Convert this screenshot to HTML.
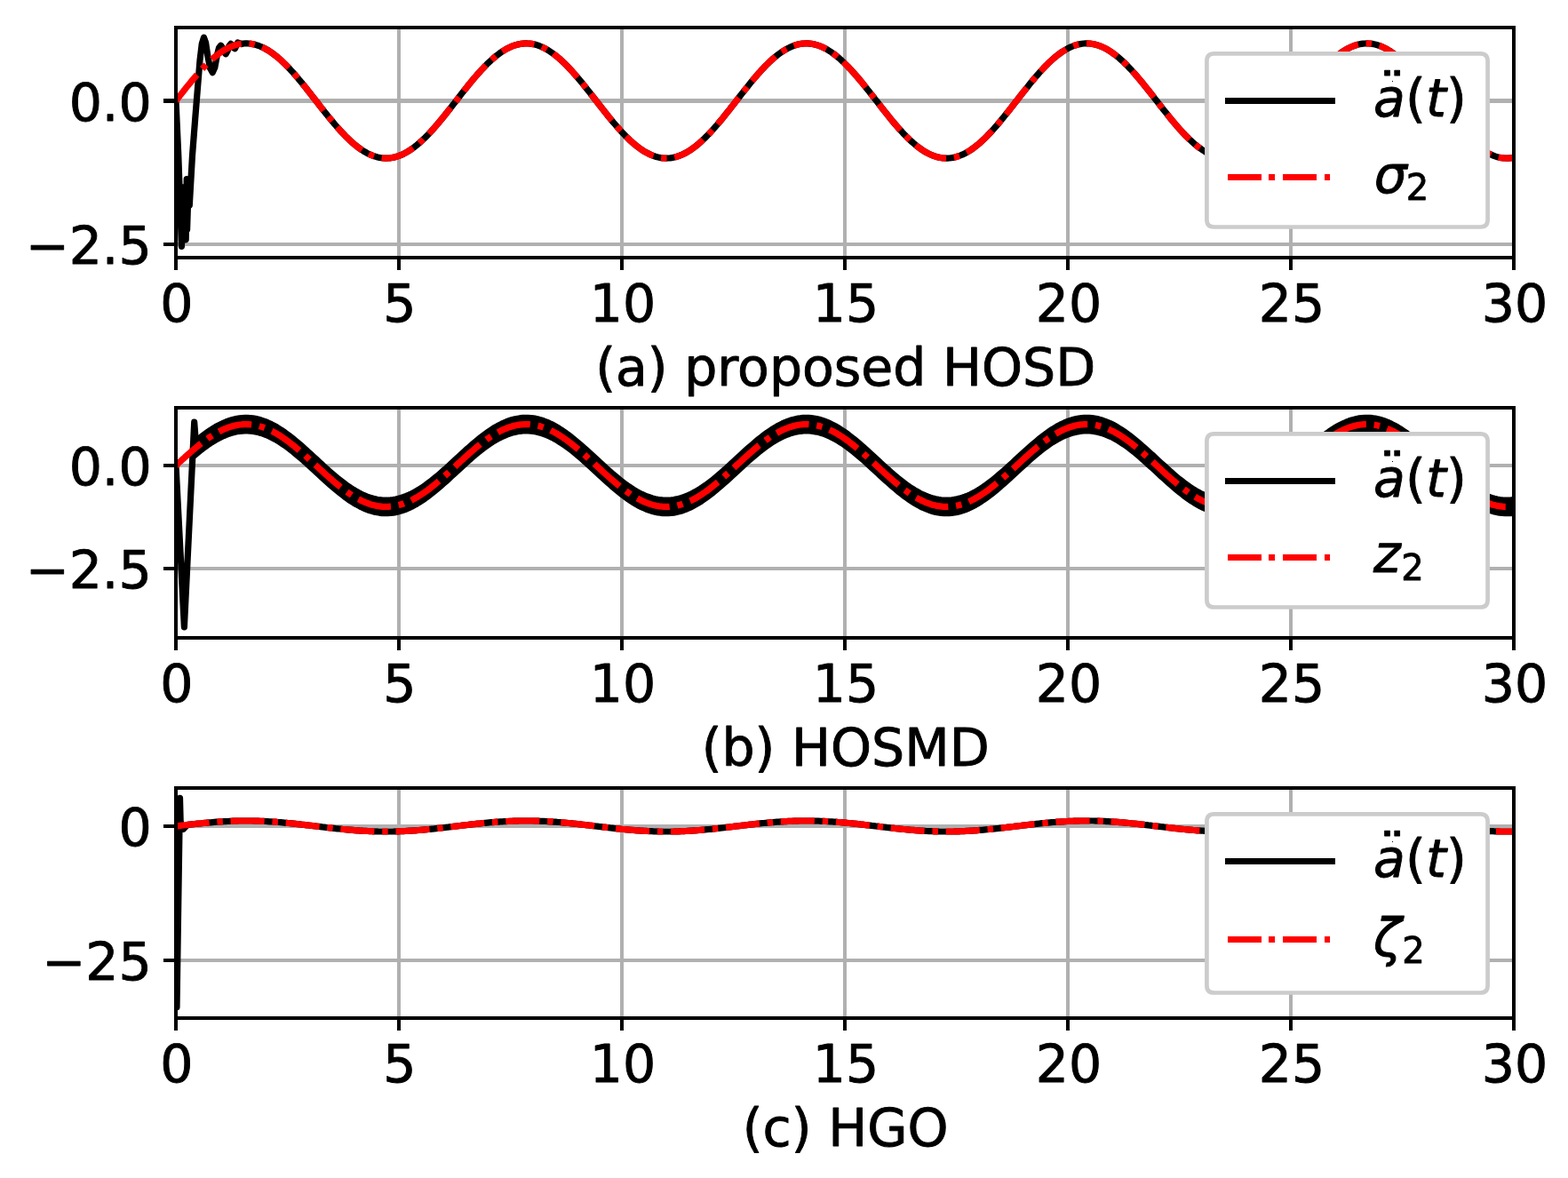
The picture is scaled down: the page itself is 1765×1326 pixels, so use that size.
<!DOCTYPE html>
<html lang="en"><head><meta charset="utf-8"><title>Second derivative estimation: HOSD, HOSMD, HGO</title>
<style>html,body{margin:0;padding:0;background:#fff}svg{display:block}text{font-family:'DejaVu Sans','Liberation Sans',sans-serif;font-size:58.5px;fill:#000;stroke:#000;stroke-width:0.9px;stroke-linejoin:round}.it{font-style:italic}.sub{font-size:40.2px}</style></head><body>
<svg width="1765" height="1326" viewBox="0 0 1765 1326">
<rect width="1765" height="1326" fill="#fff"/>
<defs><clipPath id="c0"><rect x="198" y="31" width="1506" height="259"/></clipPath></defs>
<g>
<g fill="#b0b0b0" shape-rendering="crispEdges">
<rect x="447" y="31" width="4" height="259"/>
<rect x="698" y="31" width="4" height="259"/>
<rect x="949" y="31" width="4" height="259"/>
<rect x="1200" y="31" width="4" height="259"/>
<rect x="1451" y="31" width="4" height="259"/>
<rect x="198" y="111" width="1506" height="5"/>
<rect x="198" y="273" width="1506" height="4"/>
</g>
<g clip-path="url(#c0)" fill="none" stroke-linejoin="round">
<path d="M198 113.5 L200.8 175 L204.4 277.4 L207 210.5 L209.2 269.8 L210.2 201.5 L210.6 258.5 L212.3 205 L213.3 231 L216.5 175 L219.6 135 L222.4 100 L225 68 L227.3 49 L229.5 42.2 L231.6 48 L234 64 L236.6 77 L239.3 81.6 L241.8 76 L244.4 62 L246.6 53.5 L248.6 51.2 L250.6 54 L252.6 59 L254.2 60.8 L256 57.5 L258 51.5 L259.8 49.4 L261.6 51.2 L263.2 54 L264.4 54.8 L265.8 52 L267.6 48 L269.6 48.6 L272 49.6 L274 49 L276 48.9 L278.1 48.9 L280.1 49 L282.2 49.3 L284.2 49.6 L286.3 50 L288.3 50.6 L290.3 51.2 L292.4 52 L294.4 52.8 L296.5 53.8 L298.5 54.8 L300.6 56 L302.6 57.2 L304.6 58.5 L306.7 60 L308.7 61.5 L310.8 63.1 L312.8 64.8 L314.9 66.5 L316.9 68.4 L318.9 70.3 L321 72.3 L323 74.4 L325.1 76.5 L327.1 78.7 L329.2 80.9 L331.2 83.2 L333.2 85.5 L335.3 87.9 L337.3 90.4 L339.4 92.8 L341.4 95.4 L343.5 97.9 L345.5 100.5 L347.5 103 L349.6 105.6 L351.6 108.3 L353.7 110.9 L355.7 113.5 L357.8 116.1 L359.8 118.8 L361.8 121.4 L363.9 124 L365.9 126.6 L368 129.1 L370 131.7 L372.1 134.2 L374.1 136.6 L376.1 139.1 L378.2 141.5 L380.2 143.8 L382.3 146.1 L384.3 148.4 L386.4 150.5 L388.4 152.7 L390.4 154.7 L392.5 156.7 L394.5 158.6 L396.6 160.5 L398.6 162.2 L400.7 163.9 L402.7 165.5 L404.7 167 L406.8 168.5 L408.8 169.8 L410.9 171 L412.9 172.2 L415 173.2 L417 174.2 L419 175 L421.1 175.8 L423.1 176.4 L425.2 177 L427.2 177.4 L429.3 177.7 L431.3 178 L433.3 178.1 L435.4 178.1 L437.4 178 L439.5 177.8 L441.5 177.5 L443.6 177.1 L445.6 176.5 L447.6 175.9 L449.7 175.2 L451.7 174.4 L453.8 173.4 L455.8 172.4 L457.9 171.3 L459.9 170 L461.9 168.7 L464 167.3 L466 165.8 L468.1 164.2 L470.1 162.6 L472.2 160.8 L474.2 159 L476.2 157.1 L478.3 155.1 L480.3 153.1 L482.4 151 L484.4 148.8 L486.5 146.5 L488.5 144.3 L490.5 141.9 L492.6 139.5 L494.6 137.1 L496.7 134.7 L498.7 132.1 L500.8 129.6 L502.8 127.1 L504.8 124.5 L506.9 121.9 L508.9 119.3 L511 116.6 L513 114 L515.1 111.4 L517.1 108.8 L519.1 106.1 L521.2 103.5 L523.2 101 L525.3 98.4 L527.3 95.8 L529.4 93.3 L531.4 90.8 L533.4 88.4 L535.5 86 L537.5 83.7 L539.6 81.3 L541.6 79.1 L543.7 76.9 L545.7 74.8 L547.7 72.7 L549.8 70.7 L551.8 68.8 L553.9 66.9 L555.9 65.1 L558 63.4 L560 61.8 L562 60.3 L564.1 58.8 L566.1 57.5 L568.2 56.2 L570.2 55 L572.3 54 L574.3 53 L576.3 52.1 L578.4 51.4 L580.4 50.7 L582.5 50.1 L584.5 49.7 L586.6 49.3 L588.6 49.1 L590.6 48.9 L592.7 48.9 L594.7 49 L596.8 49.2 L598.8 49.4 L600.9 49.8 L602.9 50.3 L604.9 50.9 L607 51.7 L609 52.5 L611.1 53.4 L613.1 54.4 L615.2 55.5 L617.2 56.7 L619.2 58 L621.3 59.4 L623.3 60.9 L625.4 62.4 L627.4 64.1 L629.5 65.8 L631.5 67.6 L633.5 69.5 L635.6 71.5 L637.6 73.5 L639.7 75.6 L641.7 77.8 L643.8 80 L645.8 82.3 L647.8 84.6 L649.9 87 L651.9 89.4 L654 91.9 L656 94.3 L658.1 96.9 L660.1 99.4 L662.1 102 L664.2 104.6 L666.2 107.2 L668.3 109.8 L670.3 112.5 L672.4 115.1 L674.4 117.7 L676.4 120.3 L678.5 122.9 L680.5 125.5 L682.6 128.1 L684.6 130.7 L686.7 133.2 L688.7 135.7 L690.7 138.1 L692.8 140.5 L694.8 142.9 L696.9 145.2 L698.9 147.5 L701 149.7 L703 151.8 L705 153.9 L707.1 155.9 L709.1 157.9 L711.2 159.7 L713.2 161.5 L715.3 163.3 L717.3 164.9 L719.3 166.4 L721.4 167.9 L723.4 169.3 L725.5 170.6 L727.5 171.7 L729.6 172.8 L731.6 173.8 L733.6 174.7 L735.7 175.5 L737.7 176.2 L739.8 176.8 L741.8 177.2 L743.9 177.6 L745.9 177.9 L747.9 178 L750 178.1 L752 178 L754.1 177.9 L756.1 177.6 L758.2 177.2 L760.2 176.8 L762.2 176.2 L764.3 175.5 L766.3 174.7 L768.4 173.8 L770.4 172.8 L772.5 171.7 L774.5 170.5 L776.5 169.3 L778.6 167.9 L780.6 166.4 L782.7 164.9 L784.7 163.2 L786.8 161.5 L788.8 159.7 L790.8 157.9 L792.9 155.9 L794.9 153.9 L797 151.8 L799 149.7 L801.1 147.4 L803.1 145.2 L805.1 142.9 L807.2 140.5 L809.2 138.1 L811.3 135.6 L813.3 133.2 L815.4 130.6 L817.4 128.1 L819.4 125.5 L821.5 122.9 L823.5 120.3 L825.6 117.7 L827.6 115.1 L829.7 112.4 L831.7 109.8 L833.7 107.2 L835.8 104.6 L837.8 102 L839.9 99.4 L841.9 96.9 L844 94.3 L846 91.8 L848 89.4 L850.1 87 L852.1 84.6 L854.2 82.3 L856.2 80 L858.3 77.8 L860.3 75.6 L862.3 73.5 L864.4 71.5 L866.4 69.5 L868.5 67.6 L870.5 65.8 L872.6 64.1 L874.6 62.4 L876.6 60.9 L878.7 59.4 L880.7 58 L882.8 56.7 L884.8 55.5 L886.9 54.4 L888.9 53.4 L890.9 52.5 L893 51.6 L895 50.9 L897.1 50.3 L899.1 49.8 L901.2 49.4 L903.2 49.2 L905.2 49 L907.3 48.9 L909.3 48.9 L911.4 49.1 L913.4 49.3 L915.5 49.7 L917.5 50.1 L919.5 50.7 L921.6 51.4 L923.6 52.1 L925.7 53 L927.7 54 L929.8 55 L931.8 56.2 L933.8 57.5 L935.9 58.8 L937.9 60.3 L940 61.8 L942 63.4 L944.1 65.1 L946.1 66.9 L948.1 68.8 L950.2 70.7 L952.2 72.7 L954.3 74.8 L956.3 76.9 L958.4 79.1 L960.4 81.4 L962.4 83.7 L964.5 86 L966.5 88.4 L968.6 90.9 L970.6 93.3 L972.7 95.9 L974.7 98.4 L976.7 101 L978.8 103.6 L980.8 106.2 L982.9 108.8 L984.9 111.4 L987 114 L989 116.7 L991 119.3 L993.1 121.9 L995.1 124.5 L997.2 127.1 L999.2 129.6 L1001.3 132.2 L1003.3 134.7 L1005.3 137.1 L1007.4 139.6 L1009.4 141.9 L1011.5 144.3 L1013.5 146.6 L1015.6 148.8 L1017.6 151 L1019.6 153.1 L1021.7 155.1 L1023.7 157.1 L1025.8 159 L1027.8 160.8 L1029.9 162.6 L1031.9 164.2 L1033.9 165.8 L1036 167.3 L1038 168.7 L1040.1 170.1 L1042.1 171.3 L1044.2 172.4 L1046.2 173.4 L1048.2 174.4 L1050.3 175.2 L1052.3 175.9 L1054.4 176.5 L1056.4 177.1 L1058.5 177.5 L1060.5 177.8 L1062.5 178 L1064.6 178.1 L1066.6 178.1 L1068.7 178 L1070.7 177.7 L1072.8 177.4 L1074.8 177 L1076.8 176.4 L1078.9 175.8 L1080.9 175 L1083 174.2 L1085 173.2 L1087.1 172.2 L1089.1 171 L1091.1 169.8 L1093.2 168.5 L1095.2 167 L1097.3 165.5 L1099.3 163.9 L1101.4 162.2 L1103.4 160.5 L1105.4 158.6 L1107.5 156.7 L1109.5 154.7 L1111.6 152.6 L1113.6 150.5 L1115.7 148.3 L1117.7 146.1 L1119.7 143.8 L1121.8 141.5 L1123.8 139.1 L1125.9 136.6 L1127.9 134.1 L1130 131.6 L1132 129.1 L1134 126.5 L1136.1 124 L1138.1 121.4 L1140.2 118.7 L1142.2 116.1 L1144.3 113.5 L1146.3 110.9 L1148.3 108.2 L1150.4 105.6 L1152.4 103 L1154.5 100.4 L1156.5 97.9 L1158.6 95.3 L1160.6 92.8 L1162.6 90.4 L1164.7 87.9 L1166.7 85.5 L1168.8 83.2 L1170.8 80.9 L1172.9 78.6 L1174.9 76.5 L1176.9 74.3 L1179 72.3 L1181 70.3 L1183.1 68.4 L1185.1 66.5 L1187.2 64.8 L1189.2 63.1 L1191.2 61.5 L1193.3 60 L1195.3 58.5 L1197.4 57.2 L1199.4 56 L1201.5 54.8 L1203.5 53.8 L1205.5 52.8 L1207.6 52 L1209.6 51.2 L1211.7 50.6 L1213.7 50 L1215.8 49.6 L1217.8 49.3 L1219.8 49 L1221.9 48.9 L1223.9 48.9 L1226 49 L1228 49.2 L1230.1 49.5 L1232.1 49.9 L1234.1 50.5 L1236.2 51.1 L1238.2 51.8 L1240.3 52.6 L1242.3 53.6 L1244.4 54.6 L1246.4 55.7 L1248.4 57 L1250.5 58.3 L1252.5 59.7 L1254.6 61.2 L1256.6 62.8 L1258.7 64.4 L1260.7 66.2 L1262.7 68 L1264.8 69.9 L1266.8 71.9 L1268.9 73.9 L1270.9 76.1 L1273 78.2 L1275 80.5 L1277 82.7 L1279.1 85.1 L1281.1 87.5 L1283.2 89.9 L1285.2 92.4 L1287.3 94.9 L1289.3 97.4 L1291.3 99.9 L1293.4 102.5 L1295.4 105.1 L1297.5 107.7 L1299.5 110.4 L1301.6 113 L1303.6 115.6 L1305.6 118.2 L1307.7 120.9 L1309.7 123.5 L1311.8 126.1 L1313.8 128.6 L1315.9 131.2 L1317.9 133.7 L1319.9 136.2 L1322 138.6 L1324 141 L1326.1 143.4 L1328.1 145.7 L1330.2 147.9 L1332.2 150.1 L1334.2 152.2 L1336.3 154.3 L1338.3 156.3 L1340.4 158.2 L1342.4 160.1 L1344.5 161.9 L1346.5 163.6 L1348.5 165.2 L1350.6 166.7 L1352.6 168.2 L1354.7 169.5 L1356.7 170.8 L1358.8 172 L1360.8 173 L1362.8 174 L1364.9 174.9 L1366.9 175.6 L1369 176.3 L1371 176.9 L1373.1 177.3 L1375.1 177.7 L1377.1 177.9 L1379.2 178.1 L1381.2 178.1 L1383.3 178 L1385.3 177.8 L1387.4 177.6 L1389.4 177.2 L1391.4 176.7 L1393.5 176.1 L1395.5 175.3 L1397.6 174.5 L1399.6 173.6 L1401.7 172.6 L1403.7 171.5 L1405.7 170.3 L1407.8 169 L1409.8 167.6 L1411.9 166.1 L1413.9 164.6 L1416 162.9 L1418 161.2 L1420 159.4 L1422.1 157.5 L1424.1 155.5 L1426.2 153.5 L1428.2 151.4 L1430.3 149.2 L1432.3 147 L1434.3 144.7 L1436.4 142.4 L1438.4 140 L1440.5 137.6 L1442.5 135.1 L1444.6 132.6 L1446.6 130.1 L1448.6 127.6 L1450.7 125 L1452.7 122.4 L1454.8 119.8 L1456.8 117.2 L1458.9 114.5 L1460.9 111.9 L1462.9 109.3 L1465 106.7 L1467 104.1 L1469.1 101.5 L1471.1 98.9 L1473.2 96.3 L1475.2 93.8 L1477.2 91.3 L1479.3 88.9 L1481.3 86.5 L1483.4 84.1 L1485.4 81.8 L1487.5 79.5 L1489.5 77.3 L1491.5 75.2 L1493.6 73.1 L1495.6 71.1 L1497.7 69.1 L1499.7 67.3 L1501.8 65.5 L1503.8 63.7 L1505.8 62.1 L1507.9 60.6 L1509.9 59.1 L1512 57.7 L1514 56.4 L1516.1 55.3 L1518.1 54.2 L1520.1 53.2 L1522.2 52.3 L1524.2 51.5 L1526.3 50.8 L1528.3 50.2 L1530.4 49.8 L1532.4 49.4 L1534.4 49.1 L1536.5 49 L1538.5 48.9 L1540.6 49 L1542.6 49.1 L1544.7 49.4 L1546.7 49.8 L1548.7 50.2 L1550.8 50.8 L1552.8 51.5 L1554.9 52.3 L1556.9 53.2 L1559 54.2 L1561 55.3 L1563 56.5 L1565.1 57.7 L1567.1 59.1 L1569.2 60.6 L1571.2 62.1 L1573.3 63.8 L1575.3 65.5 L1577.3 67.3 L1579.4 69.2 L1581.4 71.1 L1583.5 73.1 L1585.5 75.2 L1587.6 77.3 L1589.6 79.6 L1591.6 81.8 L1593.7 84.1 L1595.7 86.5 L1597.8 88.9 L1599.8 91.4 L1601.9 93.9 L1603.9 96.4 L1605.9 98.9 L1608 101.5 L1610 104.1 L1612.1 106.7 L1614.1 109.3 L1616.2 111.9 L1618.2 114.6 L1620.2 117.2 L1622.3 119.8 L1624.3 122.4 L1626.4 125 L1628.4 127.6 L1630.5 130.1 L1632.5 132.7 L1634.5 135.2 L1636.6 137.6 L1638.6 140 L1640.7 142.4 L1642.7 144.7 L1644.8 147 L1646.8 149.2 L1648.8 151.4 L1650.9 153.5 L1652.9 155.5 L1655 157.5 L1657 159.4 L1659.1 161.2 L1661.1 162.9 L1663.1 164.6 L1665.2 166.1 L1667.2 167.6 L1669.3 169 L1671.3 170.3 L1673.4 171.5 L1675.4 172.6 L1677.4 173.6 L1679.5 174.5 L1681.5 175.4 L1683.6 176.1 L1685.6 176.7 L1687.7 177.2 L1689.7 177.6 L1691.7 177.8 L1693.8 178 L1695.8 178.1 L1697.9 178.1 L1699.9 177.9 L1702 177.7 L1704 177.3" stroke="#000" stroke-width="7.2"/>
<path d="M198 113.5 L199.7 111.3 L201.3 109.2 L203 107.1 L204.7 104.9 L206.4 102.8 L208 100.7 L209.7 98.6 L211.4 96.5 L213.1 94.4 L214.7 92.4 L216.4 90.3 L218.1 88.3 L219.8 86.4 L221.4 84.4 L223.1 82.5 L224.8 80.7 L226.4 78.8 L228.1 77 L229.8 75.3 L231.5 73.6 L233.1 71.9 L234.8 70.3 L236.5 68.7 L238.2 67.2 L239.8 65.7 L241.5 64.3 L243.2 62.9 L244.9 61.6 L246.5 60.3 L248.2 59.1 L249.9 58 L251.5 56.9 L253.2 55.9 L254.9 55 L256.6 54.1 L258.2 53.3 L259.9 52.5 L261.6 51.9 L263.3 51.3 L264.9 50.7 L266.6 50.2 L268.3 49.8 L270 49.5 L271.6 49.2 L273.3 49.1 L275 48.9 L276.6 48.9 L278.3 48.9 L280 49 L281.7 49.2 L283.3 49.4 L285 49.8 L286.7 50.1 L288.4 50.6 L290 51.1 L291.7 51.7 L293.4 52.4 L295.1 53.1 L296.7 53.9 L298.4 54.8 L300.1 55.7 L301.7 56.7 L303.4 57.7 L305.1 58.9 L306.8 60 L308.4 61.3 L310.1 62.6 L311.8 63.9 L313.5 65.3 L315.1 66.8 L316.8 68.3 L318.5 69.9 L320.2 71.5 L321.8 73.1 L323.5 74.8 L325.2 76.6 L326.8 78.4 L328.5 80.2 L330.2 82.1 L331.9 84 L333.5 85.9 L335.2 87.9 L336.9 89.8 L338.6 91.9 L340.2 93.9 L341.9 96 L343.6 98 L345.3 100.1 L346.9 102.3 L348.6 104.4 L350.3 106.5 L351.9 108.7 L353.6 110.8 L355.3 113 L357 115.1 L358.6 117.3 L360.3 119.4 L362 121.6 L363.7 123.7 L365.3 125.8 L367 127.9 L368.7 130 L370.4 132.1 L372 134.1 L373.7 136.2 L375.4 138.2 L377 140.1 L378.7 142.1 L380.4 144 L382.1 145.9 L383.7 147.7 L385.4 149.5 L387.1 151.3 L388.8 153 L390.4 154.7 L392.1 156.3 L393.8 157.9 L395.5 159.5 L397.1 161 L398.8 162.4 L400.5 163.8 L402.1 165.1 L403.8 166.4 L405.5 167.6 L407.2 168.7 L408.8 169.8 L410.5 170.8 L412.2 171.8 L413.9 172.7 L415.5 173.5 L417.2 174.3 L418.9 175 L420.6 175.6 L422.2 176.2 L423.9 176.6 L425.6 177.1 L427.2 177.4 L428.9 177.7 L430.6 177.9 L432.3 178 L433.9 178.1 L435.6 178.1 L437.3 178 L439 177.9 L440.6 177.6 L442.3 177.3 L444 177 L445.7 176.5 L447.3 176 L449 175.4 L450.7 174.8 L452.3 174.1 L454 173.3 L455.7 172.5 L457.4 171.5 L459 170.6 L460.7 169.5 L462.4 168.4 L464.1 167.3 L465.7 166 L467.4 164.8 L469.1 163.4 L470.8 162 L472.4 160.6 L474.1 159.1 L475.8 157.5 L477.4 155.9 L479.1 154.3 L480.8 152.6 L482.5 150.9 L484.1 149.1 L485.8 147.3 L487.5 145.4 L489.2 143.5 L490.8 141.6 L492.5 139.6 L494.2 137.7 L495.9 135.6 L497.5 133.6 L499.2 131.6 L500.9 129.5 L502.5 127.4 L504.2 125.3 L505.9 123.1 L507.6 121 L509.2 118.9 L510.9 116.7 L512.6 114.6 L514.3 112.4 L515.9 110.3 L517.6 108.1 L519.3 106 L521 103.8 L522.6 101.7 L524.3 99.6 L526 97.5 L527.6 95.4 L529.3 93.4 L531 91.3 L532.7 89.3 L534.3 87.3 L536 85.4 L537.7 83.5 L539.4 81.6 L541 79.7 L542.7 77.9 L544.4 76.1 L546.1 74.4 L547.7 72.7 L549.4 71.1 L551.1 69.5 L552.7 67.9 L554.4 66.4 L556.1 65 L557.8 63.6 L559.4 62.2 L561.1 60.9 L562.8 59.7 L564.5 58.6 L566.1 57.5 L567.8 56.4 L569.5 55.4 L571.2 54.5 L572.8 53.7 L574.5 52.9 L576.2 52.2 L577.8 51.5 L579.5 51 L581.2 50.5 L582.9 50 L584.5 49.7 L586.2 49.4 L587.9 49.1 L589.6 49 L591.2 48.9 L592.9 48.9 L594.6 49 L596.3 49.1 L597.9 49.3 L599.6 49.6 L601.3 49.9 L602.9 50.4 L604.6 50.8 L606.3 51.4 L608 52 L609.6 52.7 L611.3 53.5 L613 54.3 L614.7 55.2 L616.3 56.2 L618 57.2 L619.7 58.3 L621.4 59.4 L623 60.7 L624.7 61.9 L626.4 63.2 L628 64.6 L629.7 66.1 L631.4 67.5 L633.1 69.1 L634.7 70.7 L636.4 72.3 L638.1 74 L639.8 75.7 L641.4 77.5 L643.1 79.3 L644.8 81.1 L646.5 83 L648.1 84.9 L649.8 86.9 L651.5 88.9 L653.1 90.9 L654.8 92.9 L656.5 94.9 L658.2 97 L659.8 99.1 L661.5 101.2 L663.2 103.3 L664.9 105.5 L666.5 107.6 L668.2 109.7 L669.9 111.9 L671.6 114.1 L673.2 116.2 L674.9 118.4 L676.6 120.5 L678.2 122.6 L679.9 124.8 L681.6 126.9 L683.3 129 L684.9 131.1 L686.6 133.1 L688.3 135.2 L690 137.2 L691.6 139.2 L693.3 141.1 L695 143.1 L696.7 145 L698.3 146.8 L700 148.6 L701.7 150.4 L703.3 152.2 L705 153.9 L706.7 155.5 L708.4 157.1 L710 158.7 L711.7 160.2 L713.4 161.7 L715.1 163.1 L716.7 164.4 L718.4 165.7 L720.1 167 L721.8 168.2 L723.4 169.3 L725.1 170.3 L726.8 171.3 L728.4 172.2 L730.1 173.1 L731.8 173.9 L733.5 174.6 L735.1 175.3 L736.8 175.9 L738.5 176.4 L740.2 176.9 L741.8 177.3 L743.5 177.6 L745.2 177.8 L746.9 178 L748.5 178.1 L750.2 178.1 L751.9 178.1 L753.5 177.9 L755.2 177.7 L756.9 177.5 L758.6 177.2 L760.2 176.8 L761.9 176.3 L763.6 175.7 L765.3 175.1 L766.9 174.5 L768.6 173.7 L770.3 172.9 L772 172 L773.6 171.1 L775.3 170.1 L777 169 L778.6 167.8 L780.3 166.7 L782 165.4 L783.7 164.1 L785.3 162.7 L787 161.3 L788.7 159.8 L790.4 158.3 L792 156.7 L793.7 155.1 L795.4 153.4 L797.1 151.7 L798.7 150 L800.4 148.2 L802.1 146.3 L803.7 144.5 L805.4 142.5 L807.1 140.6 L808.8 138.6 L810.4 136.6 L812.1 134.6 L813.8 132.6 L815.5 130.5 L817.1 128.4 L818.8 126.3 L820.5 124.2 L822.2 122.1 L823.8 119.9 L825.5 117.8 L827.2 115.6 L828.8 113.5 L830.5 111.3 L832.2 109.2 L833.9 107 L835.5 104.9 L837.2 102.8 L838.9 100.6 L840.6 98.5 L842.2 96.5 L843.9 94.4 L845.6 92.3 L847.3 90.3 L848.9 88.3 L850.6 86.4 L852.3 84.4 L853.9 82.5 L855.6 80.6 L857.3 78.8 L859 77 L860.6 75.3 L862.3 73.5 L864 71.9 L865.7 70.2 L867.3 68.7 L869 67.1 L870.7 65.7 L872.4 64.3 L874 62.9 L875.7 61.6 L877.4 60.3 L879 59.1 L880.7 58 L882.4 56.9 L884.1 55.9 L885.7 55 L887.4 54.1 L889.1 53.3 L890.8 52.5 L892.4 51.9 L894.1 51.2 L895.8 50.7 L897.5 50.2 L899.1 49.8 L900.8 49.5 L902.5 49.2 L904.1 49.1 L905.8 48.9 L907.5 48.9 L909.2 48.9 L910.8 49 L912.5 49.2 L914.2 49.4 L915.9 49.8 L917.5 50.1 L919.2 50.6 L920.9 51.1 L922.6 51.7 L924.2 52.4 L925.9 53.1 L927.6 53.9 L929.2 54.8 L930.9 55.7 L932.6 56.7 L934.3 57.7 L935.9 58.9 L937.6 60 L939.3 61.3 L941 62.6 L942.6 63.9 L944.3 65.3 L946 66.8 L947.7 68.3 L949.3 69.9 L951 71.5 L952.7 73.2 L954.3 74.9 L956 76.6 L957.7 78.4 L959.4 80.2 L961 82.1 L962.7 84 L964.4 85.9 L966.1 87.9 L967.7 89.9 L969.4 91.9 L971.1 93.9 L972.8 96 L974.4 98.1 L976.1 100.2 L977.8 102.3 L979.4 104.4 L981.1 106.5 L982.8 108.7 L984.5 110.8 L986.1 113 L987.8 115.1 L989.5 117.3 L991.2 119.4 L992.8 121.6 L994.5 123.7 L996.2 125.8 L997.9 127.9 L999.5 130 L1001.2 132.1 L1002.9 134.2 L1004.5 136.2 L1006.2 138.2 L1007.9 140.2 L1009.6 142.1 L1011.2 144 L1012.9 145.9 L1014.6 147.7 L1016.3 149.6 L1017.9 151.3 L1019.6 153 L1021.3 154.7 L1023 156.4 L1024.6 157.9 L1026.3 159.5 L1028 161 L1029.6 162.4 L1031.3 163.8 L1033 165.1 L1034.7 166.4 L1036.3 167.6 L1038 168.7 L1039.7 169.8 L1041.4 170.8 L1043 171.8 L1044.7 172.7 L1046.4 173.5 L1048.1 174.3 L1049.7 175 L1051.4 175.6 L1053.1 176.2 L1054.7 176.7 L1056.4 177.1 L1058.1 177.4 L1059.8 177.7 L1061.4 177.9 L1063.1 178 L1064.8 178.1 L1066.5 178.1 L1068.1 178 L1069.8 177.9 L1071.5 177.6 L1073.2 177.3 L1074.8 177 L1076.5 176.5 L1078.2 176 L1079.8 175.4 L1081.5 174.8 L1083.2 174.1 L1084.9 173.3 L1086.5 172.5 L1088.2 171.5 L1089.9 170.6 L1091.6 169.5 L1093.2 168.4 L1094.9 167.3 L1096.6 166 L1098.3 164.7 L1099.9 163.4 L1101.6 162 L1103.3 160.6 L1104.9 159.1 L1106.6 157.5 L1108.3 155.9 L1110 154.3 L1111.6 152.6 L1113.3 150.8 L1115 149.1 L1116.7 147.2 L1118.3 145.4 L1120 143.5 L1121.7 141.6 L1123.4 139.6 L1125 137.6 L1126.7 135.6 L1128.4 133.6 L1130 131.5 L1131.7 129.5 L1133.4 127.4 L1135.1 125.2 L1136.7 123.1 L1138.4 121 L1140.1 118.8 L1141.8 116.7 L1143.4 114.5 L1145.1 112.4 L1146.8 110.2 L1148.5 108.1 L1150.1 106 L1151.8 103.8 L1153.5 101.7 L1155.1 99.6 L1156.8 97.5 L1158.5 95.4 L1160.2 93.4 L1161.8 91.3 L1163.5 89.3 L1165.2 87.3 L1166.9 85.4 L1168.5 83.5 L1170.2 81.6 L1171.9 79.7 L1173.6 77.9 L1175.2 76.1 L1176.9 74.4 L1178.6 72.7 L1180.2 71 L1181.9 69.4 L1183.6 67.9 L1185.3 66.4 L1186.9 64.9 L1188.6 63.6 L1190.3 62.2 L1192 60.9 L1193.6 59.7 L1195.3 58.6 L1197 57.5 L1198.7 56.4 L1200.3 55.4 L1202 54.5 L1203.7 53.7 L1205.3 52.9 L1207 52.2 L1208.7 51.5 L1210.4 51 L1212 50.5 L1213.7 50 L1215.4 49.7 L1217.1 49.4 L1218.7 49.1 L1220.4 49 L1222.1 48.9 L1223.8 48.9 L1225.4 49 L1227.1 49.1 L1228.8 49.3 L1230.4 49.6 L1232.1 49.9 L1233.8 50.4 L1235.5 50.8 L1237.1 51.4 L1238.8 52 L1240.5 52.7 L1242.2 53.5 L1243.8 54.3 L1245.5 55.2 L1247.2 56.2 L1248.9 57.2 L1250.5 58.3 L1252.2 59.5 L1253.9 60.7 L1255.5 61.9 L1257.2 63.3 L1258.9 64.6 L1260.6 66.1 L1262.2 67.6 L1263.9 69.1 L1265.6 70.7 L1267.3 72.3 L1268.9 74 L1270.6 75.7 L1272.3 77.5 L1274 79.3 L1275.6 81.2 L1277.3 83 L1279 84.9 L1280.6 86.9 L1282.3 88.9 L1284 90.9 L1285.7 92.9 L1287.3 95 L1289 97 L1290.7 99.1 L1292.4 101.2 L1294 103.3 L1295.7 105.5 L1297.4 107.6 L1299.1 109.8 L1300.7 111.9 L1302.4 114.1 L1304.1 116.2 L1305.7 118.4 L1307.4 120.5 L1309.1 122.7 L1310.8 124.8 L1312.4 126.9 L1314.1 129 L1315.8 131.1 L1317.5 133.1 L1319.1 135.2 L1320.8 137.2 L1322.5 139.2 L1324.2 141.1 L1325.8 143.1 L1327.5 145 L1329.2 146.8 L1330.8 148.7 L1332.5 150.4 L1334.2 152.2 L1335.9 153.9 L1337.5 155.6 L1339.2 157.2 L1340.9 158.7 L1342.6 160.2 L1344.2 161.7 L1345.9 163.1 L1347.6 164.5 L1349.3 165.8 L1350.9 167 L1352.6 168.2 L1354.3 169.3 L1355.9 170.3 L1357.6 171.3 L1359.3 172.3 L1361 173.1 L1362.6 173.9 L1364.3 174.6 L1366 175.3 L1367.7 175.9 L1369.3 176.4 L1371 176.9 L1372.7 177.3 L1374.4 177.6 L1376 177.8 L1377.7 178 L1379.4 178.1 L1381 178.1 L1382.7 178.1 L1384.4 177.9 L1386.1 177.7 L1387.7 177.5 L1389.4 177.2 L1391.1 176.8 L1392.8 176.3 L1394.4 175.7 L1396.1 175.1 L1397.8 174.4 L1399.5 173.7 L1401.1 172.9 L1402.8 172 L1404.5 171.1 L1406.1 170 L1407.8 169 L1409.5 167.8 L1411.2 166.6 L1412.8 165.4 L1414.5 164.1 L1416.2 162.7 L1417.9 161.3 L1419.5 159.8 L1421.2 158.3 L1422.9 156.7 L1424.6 155.1 L1426.2 153.4 L1427.9 151.7 L1429.6 149.9 L1431.2 148.1 L1432.9 146.3 L1434.6 144.4 L1436.3 142.5 L1437.9 140.6 L1439.6 138.6 L1441.3 136.6 L1443 134.6 L1444.6 132.6 L1446.3 130.5 L1448 128.4 L1449.7 126.3 L1451.3 124.2 L1453 122 L1454.7 119.9 L1456.3 117.8 L1458 115.6 L1459.7 113.5 L1461.4 111.3 L1463 109.2 L1464.7 107 L1466.4 104.9 L1468.1 102.7 L1469.7 100.6 L1471.4 98.5 L1473.1 96.4 L1474.8 94.4 L1476.4 92.3 L1478.1 90.3 L1479.8 88.3 L1481.4 86.3 L1483.1 84.4 L1484.8 82.5 L1486.5 80.6 L1488.1 78.8 L1489.8 77 L1491.5 75.2 L1493.2 73.5 L1494.8 71.9 L1496.5 70.2 L1498.2 68.7 L1499.9 67.1 L1501.5 65.7 L1503.2 64.2 L1504.9 62.9 L1506.5 61.6 L1508.2 60.3 L1509.9 59.1 L1511.6 58 L1513.2 56.9 L1514.9 55.9 L1516.6 55 L1518.3 54.1 L1519.9 53.3 L1521.6 52.5 L1523.3 51.9 L1525 51.2 L1526.6 50.7 L1528.3 50.2 L1530 49.8 L1531.6 49.5 L1533.3 49.2 L1535 49.1 L1536.7 48.9 L1538.3 48.9 L1540 48.9 L1541.7 49 L1543.4 49.2 L1545 49.4 L1546.7 49.8 L1548.4 50.1 L1550.1 50.6 L1551.7 51.1 L1553.4 51.7 L1555.1 52.4 L1556.7 53.1 L1558.4 53.9 L1560.1 54.8 L1561.8 55.7 L1563.4 56.7 L1565.1 57.8 L1566.8 58.9 L1568.5 60.1 L1570.1 61.3 L1571.8 62.6 L1573.5 63.9 L1575.2 65.4 L1576.8 66.8 L1578.5 68.3 L1580.2 69.9 L1581.8 71.5 L1583.5 73.2 L1585.2 74.9 L1586.9 76.6 L1588.5 78.4 L1590.2 80.2 L1591.9 82.1 L1593.6 84 L1595.2 85.9 L1596.9 87.9 L1598.6 89.9 L1600.3 91.9 L1601.9 93.9 L1603.6 96 L1605.3 98.1 L1606.9 100.2 L1608.6 102.3 L1610.3 104.4 L1612 106.6 L1613.6 108.7 L1615.3 110.9 L1617 113 L1618.7 115.2 L1620.3 117.3 L1622 119.5 L1623.7 121.6 L1625.4 123.7 L1627 125.8 L1628.7 128 L1630.4 130 L1632 132.1 L1633.7 134.2 L1635.4 136.2 L1637.1 138.2 L1638.7 140.2 L1640.4 142.1 L1642.1 144 L1643.8 145.9 L1645.4 147.8 L1647.1 149.6 L1648.8 151.3 L1650.5 153.1 L1652.1 154.7 L1653.8 156.4 L1655.5 158 L1657.1 159.5 L1658.8 161 L1660.5 162.4 L1662.2 163.8 L1663.8 165.1 L1665.5 166.4 L1667.2 167.6 L1668.9 168.7 L1670.5 169.8 L1672.2 170.8 L1673.9 171.8 L1675.6 172.7 L1677.2 173.5 L1678.9 174.3 L1680.6 175 L1682.2 175.6 L1683.9 176.2 L1685.6 176.7 L1687.3 177.1 L1688.9 177.4 L1690.6 177.7 L1692.3 177.9 L1694 178 L1695.6 178.1 L1697.3 178.1 L1699 178 L1700.7 177.8 L1702.3 177.6 L1704 177.3" stroke="#f00" stroke-width="7.2" stroke-dasharray="38.1 8.82 6.47 8.78" stroke-dashoffset="0.3"/>
</g>
<g fill="#000" shape-rendering="crispEdges">
<rect x="196" y="29" width="4" height="263"/>
<rect x="1702" y="29" width="4" height="263"/>
<rect x="196" y="29" width="1510" height="4"/>
<rect x="196" y="288" width="1510" height="4"/>
<rect x="196" y="290" width="4" height="14"/>
<rect x="447" y="290" width="4" height="14"/>
<rect x="698" y="290" width="4" height="14"/>
<rect x="949" y="290" width="4" height="14"/>
<rect x="1200" y="290" width="4" height="14"/>
<rect x="1451" y="290" width="4" height="14"/>
<rect x="1702" y="290" width="4" height="14"/>
<rect x="184" y="111" width="14" height="5"/>
<rect x="184" y="273" width="14" height="4"/>
</g>
<g text-anchor="middle">
<text x="198.9" y="361.8">0</text>
<text x="449.9" y="361.8">5</text>
<text x="700.9" y="361.8">10</text>
<text x="951.9" y="361.8">15</text>
<text x="1202.9" y="361.8">20</text>
<text x="1453.9" y="361.8">25</text>
<text x="1704.9" y="361.8">30</text>
</g>
<g text-anchor="end">
<text x="170.7" y="135.7">0.0</text>
<text x="170.7" y="297.2">−2.5</text>
</g>
<text x="951.7" y="434" text-anchor="middle">(a) proposed HOSD</text>
<path d="M1366.7 60.4 L1666.3 60.4 Q1674.6 60.4 1674.6 68.7 L1674.6 247.2 Q1674.6 255.5 1666.3 255.5 L1366.7 255.5 Q1358.4 255.5 1358.4 247.2 L1358.4 68.7 Q1358.4 60.4 1366.7 60.4 Z" fill="#fff" stroke="#ccc" stroke-width="4.7"/>
<rect x="1379" y="110" width="124" height="7" fill="#000" shape-rendering="crispEdges"/>
<g fill="#f00" shape-rendering="crispEdges">
<rect x="1382" y="196" width="38" height="7"/>
<rect x="1428" y="196" width="7" height="7"/>
<rect x="1444" y="196" width="38" height="7"/>
<rect x="1491" y="196" width="6" height="7"/>
</g>
<text class="it" x="1546.0" y="131.3">a</text>
<text x="1552.5" y="123.9">¨</text>
<rect x="1567" y="91" width="1" height="1" fill="#000"/>
<text x="1582.0" y="131.3">(</text>
<text class="it" x="1605.0" y="131.3">t</text>
<text x="1628.0" y="131.3">)</text>
<text class="it" x="1546.7" y="216.5">σ</text>
<text class="sub" x="1582.8" y="225">2</text>
</g>
<defs><clipPath id="c1"><rect x="198" y="459" width="1506" height="259"/></clipPath></defs>
<g>
<g fill="#b0b0b0" shape-rendering="crispEdges">
<rect x="447" y="459" width="4" height="259"/>
<rect x="698" y="459" width="4" height="259"/>
<rect x="949" y="459" width="4" height="259"/>
<rect x="1200" y="459" width="4" height="259"/>
<rect x="1451" y="459" width="4" height="259"/>
<rect x="198" y="522" width="1506" height="4"/>
<rect x="198" y="638" width="1506" height="4"/>
</g>
<g clip-path="url(#c1)" fill="none" stroke-linejoin="round">
<path d="M198 524 L207.4 705.8 L218.7 475.2 L220.4 498" stroke="#000" stroke-width="7.2"/>
<path d="M219 497.9 L222 495.4 L225 493 L227.9 490.6 L230.9 488.4 L233.9 486.3 L236.9 484.2 L239.9 482.3 L242.8 480.5 L245.8 478.9 L248.8 477.4 L251.8 476 L254.8 474.7 L257.7 473.6 L260.7 472.7 L263.7 471.9 L266.7 471.2 L269.7 470.8 L272.6 470.5 L275.6 470.3 L278.6 470.3 L281.6 470.5 L284.6 470.8 L287.5 471.3 L290.5 472 L293.5 472.8 L296.5 473.8 L299.5 474.9 L302.4 476.2 L305.4 477.6 L308.4 479.2 L311.4 480.8 L314.4 482.7 L317.3 484.6 L320.3 486.6 L323.3 488.8 L326.3 491 L329.3 493.4 L332.2 495.8 L335.2 498.3 L338.2 500.8 L341.2 503.5 L344.2 506.1 L347.1 508.8 L350.1 511.5 L353.1 514.3 L356.1 517 L359.1 519.8 L362 522.5 L365 525.3 L368 528 L371 530.6 L374 533.2 L376.9 535.7 L379.9 538.2 L382.9 540.6 L385.9 542.9 L388.9 545.2 L391.8 547.3 L394.8 549.3 L397.8 551.2 L400.8 553 L403.8 554.6 L406.7 556.2 L409.7 557.5 L412.7 558.8 L415.7 559.9 L418.7 560.8 L421.6 561.6 L424.6 562.2 L427.6 562.7 L430.6 563 L433.6 563.1 L436.5 563.1 L439.5 562.9 L442.5 562.5 L445.5 562 L448.5 561.3 L451.4 560.5 L454.4 559.5 L457.4 558.4 L460.4 557.1 L463.4 555.7 L466.3 554.1 L469.3 552.4 L472.3 550.6 L475.3 548.7 L478.3 546.6 L481.2 544.4 L484.2 542.2 L487.2 539.8 L490.2 537.4 L493.2 534.9 L496.1 532.4 L499.1 529.7 L502.1 527.1 L505.1 524.4 L508.1 521.6 L511 518.9 L514 516.1 L517 513.4 L520 510.6 L523 507.9 L525.9 505.2 L528.9 502.6 L531.9 500 L534.9 497.5 L537.9 495 L540.8 492.6 L543.8 490.3 L546.8 488.1 L549.8 485.9 L552.8 483.9 L555.7 482 L558.7 480.3 L561.7 478.6 L564.7 477.1 L567.7 475.8 L570.6 474.5 L573.6 473.5 L576.6 472.5 L579.6 471.8 L582.6 471.2 L585.5 470.7 L588.5 470.4 L591.5 470.3 L594.5 470.3 L597.5 470.5 L600.4 470.9 L603.4 471.4 L606.4 472.1 L609.4 473 L612.4 474 L615.3 475.1 L618.3 476.4 L621.3 477.8 L624.3 479.4 L627.3 481.1 L630.2 483 L633.2 484.9 L636.2 487 L639.2 489.1 L642.2 491.4 L645.1 493.7 L648.1 496.2 L651.1 498.7 L654.1 501.3 L657.1 503.9 L660 506.5 L663 509.2 L666 512 L669 514.7 L672 517.5 L674.9 520.2 L677.9 523 L680.9 525.7 L683.9 528.4 L686.9 531 L689.8 533.6 L692.8 536.1 L695.8 538.6 L698.8 541 L701.8 543.3 L704.7 545.5 L707.7 547.6 L710.7 549.6 L713.7 551.5 L716.7 553.3 L719.6 554.9 L722.6 556.4 L725.6 557.7 L728.6 559 L731.6 560 L734.5 560.9 L737.5 561.7 L740.5 562.3 L743.5 562.7 L746.5 563 L749.4 563.1 L752.4 563 L755.4 562.8 L758.4 562.5 L761.4 561.9 L764.3 561.2 L767.3 560.4 L770.3 559.3 L773.3 558.2 L776.3 556.9 L779.2 555.4 L782.2 553.8 L785.2 552.1 L788.2 550.3 L791.2 548.3 L794.1 546.3 L797.1 544.1 L800.1 541.8 L803.1 539.5 L806.1 537 L809 534.5 L812 531.9 L815 529.3 L818 526.6 L821 523.9 L823.9 521.2 L826.9 518.5 L829.9 515.7 L832.9 513 L835.9 510.2 L838.8 507.5 L841.8 504.8 L844.8 502.2 L847.8 499.6 L850.8 497.1 L853.7 494.6 L856.7 492.2 L859.7 489.9 L862.7 487.7 L865.7 485.6 L868.6 483.6 L871.6 481.8 L874.6 480 L877.6 478.4 L880.6 476.9 L883.5 475.6 L886.5 474.4 L889.5 473.3 L892.5 472.4 L895.5 471.7 L898.4 471.1 L901.4 470.7 L904.4 470.4 L907.4 470.3 L910.4 470.4 L913.3 470.6 L916.3 471 L919.3 471.5 L922.3 472.2 L925.3 473.1 L928.2 474.1 L931.2 475.3 L934.2 476.6 L937.2 478.1 L940.2 479.7 L943.1 481.4 L946.1 483.3 L949.1 485.2 L952.1 487.3 L955.1 489.5 L958 491.8 L961 494.1 L964 496.6 L967 499.1 L970 501.7 L973 504.3 L975.9 507 L978.9 509.7 L981.9 512.4 L984.9 515.2 L987.9 517.9 L990.8 520.7 L993.8 523.4 L996.8 526.1 L999.8 528.8 L1002.8 531.4 L1005.7 534 L1008.7 536.5 L1011.7 539 L1014.7 541.4 L1017.7 543.7 L1020.6 545.8 L1023.6 547.9 L1026.6 549.9 L1029.6 551.8 L1032.6 553.5 L1035.5 555.1 L1038.5 556.6 L1041.5 557.9 L1044.5 559.1 L1047.5 560.2 L1050.4 561.1 L1053.4 561.8 L1056.4 562.4 L1059.4 562.8 L1062.4 563 L1065.3 563.1 L1068.3 563 L1071.3 562.8 L1074.3 562.4 L1077.3 561.8 L1080.2 561.1 L1083.2 560.2 L1086.2 559.2 L1089.2 558 L1092.2 556.7 L1095.1 555.2 L1098.1 553.6 L1101.1 551.9 L1104.1 550 L1107.1 548 L1110 545.9 L1113 543.7 L1116 541.5 L1119 539.1 L1122 536.6 L1124.9 534.1 L1127.9 531.5 L1130.9 528.9 L1133.9 526.2 L1136.9 523.5 L1139.8 520.8 L1142.8 518 L1145.8 515.3 L1148.8 512.5 L1151.8 509.8 L1154.7 507.1 L1157.7 504.4 L1160.7 501.8 L1163.7 499.2 L1166.7 496.7 L1169.6 494.2 L1172.6 491.9 L1175.6 489.6 L1178.6 487.4 L1181.6 485.3 L1184.5 483.3 L1187.5 481.5 L1190.5 479.7 L1193.5 478.1 L1196.5 476.7 L1199.4 475.4 L1202.4 474.2 L1205.4 473.2 L1208.4 472.3 L1211.4 471.6 L1214.3 471 L1217.3 470.6 L1220.3 470.4 L1223.3 470.3 L1226.3 470.4 L1229.2 470.6 L1232.2 471.1 L1235.2 471.6 L1238.2 472.4 L1241.2 473.3 L1244.1 474.3 L1247.1 475.5 L1250.1 476.8 L1253.1 478.3 L1256.1 479.9 L1259 481.7 L1262 483.6 L1265 485.5 L1268 487.6 L1271 489.8 L1273.9 492.1 L1276.9 494.5 L1279.9 497 L1282.9 499.5 L1285.9 502.1 L1288.8 504.7 L1291.8 507.4 L1294.8 510.1 L1297.8 512.8 L1300.8 515.6 L1303.7 518.3 L1306.7 521.1 L1309.7 523.8 L1312.7 526.5 L1315.7 529.2 L1318.6 531.8 L1321.6 534.4 L1324.6 536.9 L1327.6 539.4 L1330.6 541.7 L1333.5 544 L1336.5 546.2 L1339.5 548.3 L1342.5 550.2 L1345.5 552.1 L1348.4 553.8 L1351.4 555.4 L1354.4 556.8 L1357.4 558.1 L1360.4 559.3 L1363.3 560.3 L1366.3 561.2 L1369.3 561.9 L1372.3 562.4 L1375.3 562.8 L1378.2 563 L1381.2 563.1 L1384.2 563 L1387.2 562.7 L1390.2 562.3 L1393.1 561.7 L1396.1 561 L1399.1 560.1 L1402.1 559 L1405.1 557.8 L1408 556.4 L1411 555 L1414 553.3 L1417 551.6 L1420 549.7 L1422.9 547.7 L1425.9 545.6 L1428.9 543.4 L1431.9 541.1 L1434.9 538.7 L1437.8 536.2 L1440.8 533.7 L1443.8 531.1 L1446.8 528.5 L1449.8 525.8 L1452.7 523.1 L1455.7 520.3 L1458.7 517.6 L1461.7 514.8 L1464.7 512.1 L1467.6 509.4 L1470.6 506.7 L1473.6 504 L1476.6 501.4 L1479.6 498.8 L1482.5 496.3 L1485.5 493.8 L1488.5 491.5 L1491.5 489.2 L1494.5 487.1 L1497.4 485 L1500.4 483 L1503.4 481.2 L1506.4 479.5 L1509.4 477.9 L1512.3 476.5 L1515.3 475.2 L1518.3 474 L1521.3 473 L1524.3 472.2 L1527.2 471.5 L1530.2 470.9 L1533.2 470.6 L1536.2 470.4 L1539.2 470.3 L1542.1 470.4 L1545.1 470.7 L1548.1 471.1 L1551.1 471.7 L1554.1 472.5 L1557 473.4 L1560 474.5 L1563 475.7 L1566 477.1 L1569 478.6 L1571.9 480.2 L1574.9 482 L1577.9 483.9 L1580.9 485.9 L1583.9 488 L1586.8 490.2 L1589.8 492.5 L1592.8 494.9 L1595.8 497.4 L1598.8 499.9 L1601.7 502.5 L1604.7 505.1 L1607.7 507.8 L1610.7 510.5 L1613.7 513.3 L1616.6 516 L1619.6 518.8 L1622.6 521.5 L1625.6 524.3 L1628.6 527 L1631.5 529.6 L1634.5 532.2 L1637.5 534.8 L1640.5 537.3 L1643.5 539.7 L1646.4 542.1 L1649.4 544.4 L1652.4 546.5 L1655.4 548.6 L1658.4 550.5 L1661.3 552.3 L1664.3 554 L1667.3 555.6 L1670.3 557 L1673.3 558.3 L1676.2 559.5 L1679.2 560.5 L1682.2 561.3 L1685.2 562 L1688.2 562.5 L1691.1 562.9 L1694.1 563.1 L1697.1 563.1 L1700.1 563 L1703.1 562.7 L1706 562.2 L1709 561.6 L1709 576.2 L1706 576.8 L1703.1 577.3 L1700.1 577.6 L1697.1 577.7 L1694.1 577.7 L1691.1 577.5 L1688.2 577.1 L1685.2 576.6 L1682.2 575.9 L1679.2 575.1 L1676.2 574.1 L1673.3 572.9 L1670.3 571.6 L1667.3 570.2 L1664.3 568.6 L1661.3 566.9 L1658.4 565.1 L1655.4 563.2 L1652.4 561.1 L1649.4 559 L1646.4 556.7 L1643.5 554.3 L1640.5 551.9 L1637.5 549.4 L1634.5 546.8 L1631.5 544.2 L1628.6 541.6 L1625.6 538.9 L1622.6 536.1 L1619.6 533.4 L1616.6 530.6 L1613.7 527.9 L1610.7 525.1 L1607.7 522.4 L1604.7 519.7 L1601.7 517.1 L1598.8 514.5 L1595.8 512 L1592.8 509.5 L1589.8 507.1 L1586.8 504.8 L1583.9 502.6 L1580.9 500.5 L1577.9 498.5 L1574.9 496.6 L1571.9 494.8 L1569 493.2 L1566 491.7 L1563 490.3 L1560 489.1 L1557 488 L1554.1 487.1 L1551.1 486.3 L1548.1 485.7 L1545.1 485.3 L1542.1 485 L1539.2 484.9 L1536.2 485 L1533.2 485.2 L1530.2 485.5 L1527.2 486.1 L1524.3 486.8 L1521.3 487.6 L1518.3 488.6 L1515.3 489.8 L1512.3 491.1 L1509.4 492.5 L1506.4 494.1 L1503.4 495.8 L1500.4 497.6 L1497.4 499.6 L1494.5 501.7 L1491.5 503.8 L1488.5 506.1 L1485.5 508.4 L1482.5 510.9 L1479.6 513.4 L1476.6 516 L1473.6 518.6 L1470.6 521.3 L1467.6 524 L1464.7 526.7 L1461.7 529.4 L1458.7 532.2 L1455.7 534.9 L1452.7 537.7 L1449.8 540.4 L1446.8 543.1 L1443.8 545.7 L1440.8 548.3 L1437.8 550.8 L1434.9 553.3 L1431.9 555.7 L1428.9 558 L1425.9 560.2 L1422.9 562.3 L1420 564.3 L1417 566.2 L1414 567.9 L1411 569.6 L1408 571 L1405.1 572.4 L1402.1 573.6 L1399.1 574.7 L1396.1 575.6 L1393.1 576.3 L1390.2 576.9 L1387.2 577.3 L1384.2 577.6 L1381.2 577.7 L1378.2 577.6 L1375.3 577.4 L1372.3 577 L1369.3 576.5 L1366.3 575.8 L1363.3 574.9 L1360.4 573.9 L1357.4 572.7 L1354.4 571.4 L1351.4 570 L1348.4 568.4 L1345.5 566.7 L1342.5 564.8 L1339.5 562.9 L1336.5 560.8 L1333.5 558.6 L1330.6 556.3 L1327.6 554 L1324.6 551.5 L1321.6 549 L1318.6 546.4 L1315.7 543.8 L1312.7 541.1 L1309.7 538.4 L1306.7 535.7 L1303.7 532.9 L1300.8 530.2 L1297.8 527.4 L1294.8 524.7 L1291.8 522 L1288.8 519.3 L1285.9 516.7 L1282.9 514.1 L1279.9 511.6 L1276.9 509.1 L1273.9 506.7 L1271 504.4 L1268 502.2 L1265 500.1 L1262 498.2 L1259 496.3 L1256.1 494.5 L1253.1 492.9 L1250.1 491.4 L1247.1 490.1 L1244.1 488.9 L1241.2 487.9 L1238.2 487 L1235.2 486.2 L1232.2 485.7 L1229.2 485.2 L1226.3 485 L1223.3 484.9 L1220.3 485 L1217.3 485.2 L1214.3 485.6 L1211.4 486.2 L1208.4 486.9 L1205.4 487.8 L1202.4 488.8 L1199.4 490 L1196.5 491.3 L1193.5 492.7 L1190.5 494.3 L1187.5 496.1 L1184.5 497.9 L1181.6 499.9 L1178.6 502 L1175.6 504.2 L1172.6 506.5 L1169.6 508.8 L1166.7 511.3 L1163.7 513.8 L1160.7 516.4 L1157.7 519 L1154.7 521.7 L1151.8 524.4 L1148.8 527.1 L1145.8 529.9 L1142.8 532.6 L1139.8 535.4 L1136.9 538.1 L1133.9 540.8 L1130.9 543.5 L1127.9 546.1 L1124.9 548.7 L1122 551.2 L1119 553.7 L1116 556.1 L1113 558.3 L1110 560.5 L1107.1 562.6 L1104.1 564.6 L1101.1 566.5 L1098.1 568.2 L1095.1 569.8 L1092.2 571.3 L1089.2 572.6 L1086.2 573.8 L1083.2 574.8 L1080.2 575.7 L1077.3 576.4 L1074.3 577 L1071.3 577.4 L1068.3 577.6 L1065.3 577.7 L1062.4 577.6 L1059.4 577.4 L1056.4 577 L1053.4 576.4 L1050.4 575.7 L1047.5 574.8 L1044.5 573.7 L1041.5 572.5 L1038.5 571.2 L1035.5 569.7 L1032.6 568.1 L1029.6 566.4 L1026.6 564.5 L1023.6 562.5 L1020.6 560.4 L1017.7 558.3 L1014.7 556 L1011.7 553.6 L1008.7 551.1 L1005.7 548.6 L1002.8 546 L999.8 543.4 L996.8 540.7 L993.8 538 L990.8 535.3 L987.9 532.5 L984.9 529.8 L981.9 527 L978.9 524.3 L975.9 521.6 L973 518.9 L970 516.3 L967 513.7 L964 511.2 L961 508.7 L958 506.4 L955.1 504.1 L952.1 501.9 L949.1 499.8 L946.1 497.9 L943.1 496 L940.2 494.3 L937.2 492.7 L934.2 491.2 L931.2 489.9 L928.2 488.7 L925.3 487.7 L922.3 486.8 L919.3 486.1 L916.3 485.6 L913.3 485.2 L910.4 485 L907.4 484.9 L904.4 485 L901.4 485.3 L898.4 485.7 L895.5 486.3 L892.5 487 L889.5 487.9 L886.5 489 L883.5 490.2 L880.6 491.5 L877.6 493 L874.6 494.6 L871.6 496.4 L868.6 498.2 L865.7 500.2 L862.7 502.3 L859.7 504.5 L856.7 506.8 L853.7 509.2 L850.8 511.7 L847.8 514.2 L844.8 516.8 L841.8 519.4 L838.8 522.1 L835.9 524.8 L832.9 527.6 L829.9 530.3 L826.9 533.1 L823.9 535.8 L821 538.5 L818 541.2 L815 543.9 L812 546.5 L809 549.1 L806.1 551.6 L803.1 554.1 L800.1 556.4 L797.1 558.7 L794.1 560.9 L791.2 562.9 L788.2 564.9 L785.2 566.7 L782.2 568.4 L779.2 570 L776.3 571.5 L773.3 572.8 L770.3 573.9 L767.3 575 L764.3 575.8 L761.4 576.5 L758.4 577.1 L755.4 577.4 L752.4 577.6 L749.4 577.7 L746.5 577.6 L743.5 577.3 L740.5 576.9 L737.5 576.3 L734.5 575.5 L731.6 574.6 L728.6 573.6 L725.6 572.3 L722.6 571 L719.6 569.5 L716.7 567.9 L713.7 566.1 L710.7 564.2 L707.7 562.2 L704.7 560.1 L701.8 557.9 L698.8 555.6 L695.8 553.2 L692.8 550.7 L689.8 548.2 L686.9 545.6 L683.9 543 L680.9 540.3 L677.9 537.6 L674.9 534.8 L672 532.1 L669 529.3 L666 526.6 L663 523.8 L660 521.1 L657.1 518.5 L654.1 515.9 L651.1 513.3 L648.1 510.8 L645.1 508.3 L642.2 506 L639.2 503.7 L636.2 501.6 L633.2 499.5 L630.2 497.6 L627.3 495.7 L624.3 494 L621.3 492.4 L618.3 491 L615.3 489.7 L612.4 488.6 L609.4 487.6 L606.4 486.7 L603.4 486 L600.4 485.5 L597.5 485.1 L594.5 484.9 L591.5 484.9 L588.5 485 L585.5 485.3 L582.6 485.8 L579.6 486.4 L576.6 487.1 L573.6 488.1 L570.6 489.1 L567.7 490.4 L564.7 491.7 L561.7 493.2 L558.7 494.9 L555.7 496.6 L552.8 498.5 L549.8 500.5 L546.8 502.7 L543.8 504.9 L540.8 507.2 L537.9 509.6 L534.9 512.1 L531.9 514.6 L528.9 517.2 L525.9 519.8 L523 522.5 L520 525.2 L517 528 L514 530.7 L511 533.5 L508.1 536.2 L505.1 539 L502.1 541.7 L499.1 544.3 L496.1 547 L493.2 549.5 L490.2 552 L487.2 554.4 L484.2 556.8 L481.2 559 L478.3 561.2 L475.3 563.3 L472.3 565.2 L469.3 567 L466.3 568.7 L463.4 570.3 L460.4 571.7 L457.4 573 L454.4 574.1 L451.4 575.1 L448.5 575.9 L445.5 576.6 L442.5 577.1 L439.5 577.5 L436.5 577.7 L433.6 577.7 L430.6 577.6 L427.6 577.3 L424.6 576.8 L421.6 576.2 L418.7 575.4 L415.7 574.5 L412.7 573.4 L409.7 572.1 L406.7 570.8 L403.8 569.2 L400.8 567.6 L397.8 565.8 L394.8 563.9 L391.8 561.9 L388.9 559.8 L385.9 557.5 L382.9 555.2 L379.9 552.8 L376.9 550.3 L374 547.8 L371 545.2 L368 542.6 L365 539.9 L362 537.1 L359.1 534.4 L356.1 531.6 L353.1 528.9 L350.1 526.1 L347.1 523.4 L344.2 520.7 L341.2 518.1 L338.2 515.4 L335.2 512.9 L332.2 510.4 L329.3 508 L326.3 505.6 L323.3 503.4 L320.3 501.2 L317.3 499.2 L314.4 497.3 L311.4 495.4 L308.4 493.8 L305.4 492.2 L302.4 490.8 L299.5 489.5 L296.5 488.4 L293.5 487.4 L290.5 486.6 L287.5 485.9 L284.6 485.4 L281.6 485.1 L278.6 484.9 L275.6 484.9 L272.6 485.1 L269.7 485.4 L266.7 485.8 L263.7 486.5 L260.7 487.3 L257.7 488.2 L254.8 489.3 L251.8 490.6 L248.8 492 L245.8 493.5 L242.8 495.1 L239.9 496.9 L236.9 498.8 L233.9 500.9 L230.9 503 L227.9 505.2 L225 507.6 L222 510 L219 512.5 Z" fill="#000" stroke="#000" stroke-width="7.2"/>
<path d="M198 524 L199.7 522.5 L201.3 520.9 L203 519.4 L204.7 517.8 L206.4 516.3 L208 514.8 L209.7 513.3 L211.4 511.8 L213.1 510.3 L214.7 508.8 L216.4 507.4 L218.1 505.9 L219.8 504.5 L221.4 503.1 L223.1 501.8 L224.8 500.4 L226.4 499.1 L228.1 497.8 L229.8 496.5 L231.5 495.3 L233.1 494.1 L234.8 492.9 L236.5 491.8 L238.2 490.7 L239.8 489.7 L241.5 488.6 L243.2 487.7 L244.9 486.7 L246.5 485.8 L248.2 485 L249.9 484.1 L251.5 483.4 L253.2 482.6 L254.9 482 L256.6 481.3 L258.2 480.8 L259.9 480.2 L261.6 479.7 L263.3 479.3 L264.9 478.9 L266.6 478.6 L268.3 478.3 L270 478 L271.6 477.9 L273.3 477.7 L275 477.6 L276.6 477.6 L278.3 477.6 L280 477.7 L281.7 477.8 L283.3 478 L285 478.2 L286.7 478.5 L288.4 478.8 L290 479.2 L291.7 479.6 L293.4 480.1 L295.1 480.6 L296.7 481.2 L298.4 481.8 L300.1 482.5 L301.7 483.2 L303.4 483.9 L305.1 484.8 L306.8 485.6 L308.4 486.5 L310.1 487.4 L311.8 488.4 L313.5 489.4 L315.1 490.4 L316.8 491.5 L318.5 492.7 L320.2 493.8 L321.8 495 L323.5 496.2 L325.2 497.5 L326.8 498.8 L328.5 500.1 L330.2 501.4 L331.9 502.8 L333.5 504.2 L335.2 505.6 L336.9 507 L338.6 508.5 L340.2 509.9 L341.9 511.4 L343.6 512.9 L345.3 514.4 L346.9 515.9 L348.6 517.5 L350.3 519 L351.9 520.5 L353.6 522.1 L355.3 523.6 L357 525.2 L358.6 526.7 L360.3 528.3 L362 529.8 L363.7 531.3 L365.3 532.8 L367 534.4 L368.7 535.9 L370.4 537.3 L372 538.8 L373.7 540.3 L375.4 541.7 L377 543.1 L378.7 544.5 L380.4 545.9 L382.1 547.3 L383.7 548.6 L385.4 549.9 L387.1 551.2 L388.8 552.4 L390.4 553.6 L392.1 554.8 L393.8 555.9 L395.5 557 L397.1 558.1 L398.8 559.1 L400.5 560.1 L402.1 561.1 L403.8 562 L405.5 562.8 L407.2 563.7 L408.8 564.4 L410.5 565.2 L412.2 565.9 L413.9 566.5 L415.5 567.1 L417.2 567.7 L418.9 568.2 L420.6 568.6 L422.2 569 L423.9 569.4 L425.6 569.7 L427.2 569.9 L428.9 570.1 L430.6 570.3 L432.3 570.4 L433.9 570.4 L435.6 570.4 L437.3 570.3 L439 570.2 L440.6 570.1 L442.3 569.8 L444 569.6 L445.7 569.3 L447.3 568.9 L449 568.5 L450.7 568 L452.3 567.5 L454 567 L455.7 566.3 L457.4 565.7 L459 565 L460.7 564.2 L462.4 563.5 L464.1 562.6 L465.7 561.7 L467.4 560.8 L469.1 559.9 L470.8 558.9 L472.4 557.8 L474.1 556.7 L475.8 555.6 L477.4 554.5 L479.1 553.3 L480.8 552.1 L482.5 550.8 L484.1 549.6 L485.8 548.2 L487.5 546.9 L489.2 545.6 L490.8 544.2 L492.5 542.8 L494.2 541.3 L495.9 539.9 L497.5 538.4 L499.2 537 L500.9 535.5 L502.5 534 L504.2 532.5 L505.9 530.9 L507.6 529.4 L509.2 527.9 L510.9 526.3 L512.6 524.8 L514.3 523.2 L515.9 521.7 L517.6 520.1 L519.3 518.6 L521 517.1 L522.6 515.5 L524.3 514 L526 512.5 L527.6 511 L529.3 509.5 L531 508.1 L532.7 506.6 L534.3 505.2 L536 503.8 L537.7 502.4 L539.4 501.1 L541 499.7 L542.7 498.4 L544.4 497.2 L546.1 495.9 L547.7 494.7 L549.4 493.5 L551.1 492.4 L552.7 491.3 L554.4 490.2 L556.1 489.1 L557.8 488.1 L559.4 487.2 L561.1 486.3 L562.8 485.4 L564.5 484.5 L566.1 483.7 L567.8 483 L569.5 482.3 L571.2 481.6 L572.8 481 L574.5 480.5 L576.2 480 L577.8 479.5 L579.5 479.1 L581.2 478.7 L582.9 478.4 L584.5 478.1 L586.2 477.9 L587.9 477.8 L589.6 477.7 L591.2 477.6 L592.9 477.6 L594.6 477.6 L596.3 477.7 L597.9 477.9 L599.6 478.1 L601.3 478.3 L602.9 478.6 L604.6 479 L606.3 479.4 L608 479.8 L609.6 480.4 L611.3 480.9 L613 481.5 L614.7 482.1 L616.3 482.8 L618 483.6 L619.7 484.3 L621.4 485.2 L623 486 L624.7 487 L626.4 487.9 L628 488.9 L629.7 489.9 L631.4 491 L633.1 492.1 L634.7 493.2 L636.4 494.4 L638.1 495.6 L639.8 496.9 L641.4 498.1 L643.1 499.4 L644.8 500.8 L646.5 502.1 L648.1 503.5 L649.8 504.9 L651.5 506.3 L653.1 507.7 L654.8 509.2 L656.5 510.7 L658.2 512.2 L659.8 513.7 L661.5 515.2 L663.2 516.7 L664.9 518.2 L666.5 519.8 L668.2 521.3 L669.9 522.9 L671.6 524.4 L673.2 525.9 L674.9 527.5 L676.6 529 L678.2 530.6 L679.9 532.1 L681.6 533.6 L683.3 535.1 L684.9 536.6 L686.6 538.1 L688.3 539.6 L690 541 L691.6 542.4 L693.3 543.8 L695 545.2 L696.7 546.6 L698.3 547.9 L700 549.2 L701.7 550.5 L703.3 551.8 L705 553 L706.7 554.2 L708.4 555.4 L710 556.5 L711.7 557.6 L713.4 558.6 L715.1 559.6 L716.7 560.6 L718.4 561.5 L720.1 562.4 L721.8 563.3 L723.4 564.1 L725.1 564.8 L726.8 565.5 L728.4 566.2 L730.1 566.8 L731.8 567.4 L733.5 567.9 L735.1 568.4 L736.8 568.8 L738.5 569.2 L740.2 569.5 L741.8 569.8 L743.5 570 L745.2 570.2 L746.9 570.3 L748.5 570.4 L750.2 570.4 L751.9 570.4 L753.5 570.3 L755.2 570.1 L756.9 570 L758.6 569.7 L760.2 569.4 L761.9 569.1 L763.6 568.7 L765.3 568.3 L766.9 567.8 L768.6 567.2 L770.3 566.7 L772 566 L773.6 565.3 L775.3 564.6 L777 563.9 L778.6 563 L780.3 562.2 L782 561.3 L783.7 560.3 L785.3 559.4 L787 558.3 L788.7 557.3 L790.4 556.2 L792 555 L793.7 553.9 L795.4 552.7 L797.1 551.5 L798.7 550.2 L800.4 548.9 L802.1 547.6 L803.7 546.2 L805.4 544.9 L807.1 543.5 L808.8 542.1 L810.4 540.6 L812.1 539.2 L813.8 537.7 L815.5 536.2 L817.1 534.7 L818.8 533.2 L820.5 531.7 L822.2 530.2 L823.8 528.6 L825.5 527.1 L827.2 525.5 L828.8 524 L830.5 522.4 L832.2 520.9 L833.9 519.4 L835.5 517.8 L837.2 516.3 L838.9 514.8 L840.6 513.3 L842.2 511.8 L843.9 510.3 L845.6 508.8 L847.3 507.4 L848.9 505.9 L850.6 504.5 L852.3 503.1 L853.9 501.7 L855.6 500.4 L857.3 499.1 L859 497.8 L860.6 496.5 L862.3 495.3 L864 494.1 L865.7 492.9 L867.3 491.8 L869 490.7 L870.7 489.6 L872.4 488.6 L874 487.6 L875.7 486.7 L877.4 485.8 L879 484.9 L880.7 484.1 L882.4 483.4 L884.1 482.6 L885.7 482 L887.4 481.3 L889.1 480.7 L890.8 480.2 L892.4 479.7 L894.1 479.3 L895.8 478.9 L897.5 478.6 L899.1 478.3 L900.8 478 L902.5 477.8 L904.1 477.7 L905.8 477.6 L907.5 477.6 L909.2 477.6 L910.8 477.7 L912.5 477.8 L914.2 478 L915.9 478.2 L917.5 478.5 L919.2 478.8 L920.9 479.2 L922.6 479.6 L924.2 480.1 L925.9 480.6 L927.6 481.2 L929.2 481.8 L930.9 482.5 L932.6 483.2 L934.3 484 L935.9 484.8 L937.6 485.6 L939.3 486.5 L941 487.4 L942.6 488.4 L944.3 489.4 L946 490.5 L947.7 491.5 L949.3 492.7 L951 493.8 L952.7 495 L954.3 496.2 L956 497.5 L957.7 498.8 L959.4 500.1 L961 501.4 L962.7 502.8 L964.4 504.2 L966.1 505.6 L967.7 507 L969.4 508.5 L971.1 509.9 L972.8 511.4 L974.4 512.9 L976.1 514.4 L977.8 515.9 L979.4 517.5 L981.1 519 L982.8 520.5 L984.5 522.1 L986.1 523.6 L987.8 525.2 L989.5 526.7 L991.2 528.3 L992.8 529.8 L994.5 531.3 L996.2 532.9 L997.9 534.4 L999.5 535.9 L1001.2 537.4 L1002.9 538.8 L1004.5 540.3 L1006.2 541.7 L1007.9 543.1 L1009.6 544.5 L1011.2 545.9 L1012.9 547.3 L1014.6 548.6 L1016.3 549.9 L1017.9 551.2 L1019.6 552.4 L1021.3 553.6 L1023 554.8 L1024.6 555.9 L1026.3 557 L1028 558.1 L1029.6 559.1 L1031.3 560.1 L1033 561.1 L1034.7 562 L1036.3 562.8 L1038 563.7 L1039.7 564.4 L1041.4 565.2 L1043 565.9 L1044.7 566.5 L1046.4 567.1 L1048.1 567.7 L1049.7 568.2 L1051.4 568.6 L1053.1 569 L1054.7 569.4 L1056.4 569.7 L1058.1 569.9 L1059.8 570.1 L1061.4 570.3 L1063.1 570.4 L1064.8 570.4 L1066.5 570.4 L1068.1 570.3 L1069.8 570.2 L1071.5 570.1 L1073.2 569.8 L1074.8 569.6 L1076.5 569.3 L1078.2 568.9 L1079.8 568.5 L1081.5 568 L1083.2 567.5 L1084.9 567 L1086.5 566.3 L1088.2 565.7 L1089.9 565 L1091.6 564.2 L1093.2 563.4 L1094.9 562.6 L1096.6 561.7 L1098.3 560.8 L1099.9 559.8 L1101.6 558.8 L1103.3 557.8 L1104.9 556.7 L1106.6 555.6 L1108.3 554.5 L1110 553.3 L1111.6 552.1 L1113.3 550.8 L1115 549.5 L1116.7 548.2 L1118.3 546.9 L1120 545.5 L1121.7 544.2 L1123.4 542.8 L1125 541.3 L1126.7 539.9 L1128.4 538.4 L1130 537 L1131.7 535.5 L1133.4 534 L1135.1 532.4 L1136.7 530.9 L1138.4 529.4 L1140.1 527.8 L1141.8 526.3 L1143.4 524.8 L1145.1 523.2 L1146.8 521.7 L1148.5 520.1 L1150.1 518.6 L1151.8 517 L1153.5 515.5 L1155.1 514 L1156.8 512.5 L1158.5 511 L1160.2 509.5 L1161.8 508.1 L1163.5 506.6 L1165.2 505.2 L1166.9 503.8 L1168.5 502.4 L1170.2 501.1 L1171.9 499.7 L1173.6 498.4 L1175.2 497.1 L1176.9 495.9 L1178.6 494.7 L1180.2 493.5 L1181.9 492.4 L1183.6 491.2 L1185.3 490.2 L1186.9 489.1 L1188.6 488.1 L1190.3 487.2 L1192 486.2 L1193.6 485.4 L1195.3 484.5 L1197 483.7 L1198.7 483 L1200.3 482.3 L1202 481.6 L1203.7 481 L1205.3 480.5 L1207 480 L1208.7 479.5 L1210.4 479.1 L1212 478.7 L1213.7 478.4 L1215.4 478.1 L1217.1 477.9 L1218.7 477.8 L1220.4 477.7 L1222.1 477.6 L1223.8 477.6 L1225.4 477.6 L1227.1 477.7 L1228.8 477.9 L1230.4 478.1 L1232.1 478.3 L1233.8 478.6 L1235.5 479 L1237.1 479.4 L1238.8 479.9 L1240.5 480.4 L1242.2 480.9 L1243.8 481.5 L1245.5 482.1 L1247.2 482.8 L1248.9 483.6 L1250.5 484.4 L1252.2 485.2 L1253.9 486 L1255.5 487 L1257.2 487.9 L1258.9 488.9 L1260.6 489.9 L1262.2 491 L1263.9 492.1 L1265.6 493.2 L1267.3 494.4 L1268.9 495.6 L1270.6 496.9 L1272.3 498.1 L1274 499.4 L1275.6 500.8 L1277.3 502.1 L1279 503.5 L1280.6 504.9 L1282.3 506.3 L1284 507.7 L1285.7 509.2 L1287.3 510.7 L1289 512.2 L1290.7 513.7 L1292.4 515.2 L1294 516.7 L1295.7 518.2 L1297.4 519.8 L1299.1 521.3 L1300.7 522.9 L1302.4 524.4 L1304.1 526 L1305.7 527.5 L1307.4 529 L1309.1 530.6 L1310.8 532.1 L1312.4 533.6 L1314.1 535.1 L1315.8 536.6 L1317.5 538.1 L1319.1 539.6 L1320.8 541 L1322.5 542.4 L1324.2 543.9 L1325.8 545.2 L1327.5 546.6 L1329.2 547.9 L1330.8 549.3 L1332.5 550.5 L1334.2 551.8 L1335.9 553 L1337.5 554.2 L1339.2 555.4 L1340.9 556.5 L1342.6 557.6 L1344.2 558.6 L1345.9 559.6 L1347.6 560.6 L1349.3 561.5 L1350.9 562.4 L1352.6 563.3 L1354.3 564.1 L1355.9 564.8 L1357.6 565.5 L1359.3 566.2 L1361 566.8 L1362.6 567.4 L1364.3 567.9 L1366 568.4 L1367.7 568.8 L1369.3 569.2 L1371 569.5 L1372.7 569.8 L1374.4 570 L1376 570.2 L1377.7 570.3 L1379.4 570.4 L1381 570.4 L1382.7 570.4 L1384.4 570.3 L1386.1 570.1 L1387.7 570 L1389.4 569.7 L1391.1 569.4 L1392.8 569.1 L1394.4 568.7 L1396.1 568.3 L1397.8 567.8 L1399.5 567.2 L1401.1 566.7 L1402.8 566 L1404.5 565.3 L1406.1 564.6 L1407.8 563.8 L1409.5 563 L1411.2 562.2 L1412.8 561.3 L1414.5 560.3 L1416.2 559.3 L1417.9 558.3 L1419.5 557.3 L1421.2 556.2 L1422.9 555 L1424.6 553.9 L1426.2 552.7 L1427.9 551.4 L1429.6 550.2 L1431.2 548.9 L1432.9 547.6 L1434.6 546.2 L1436.3 544.9 L1437.9 543.5 L1439.6 542 L1441.3 540.6 L1443 539.2 L1444.6 537.7 L1446.3 536.2 L1448 534.7 L1449.7 533.2 L1451.3 531.7 L1453 530.1 L1454.7 528.6 L1456.3 527.1 L1458 525.5 L1459.7 524 L1461.4 522.4 L1463 520.9 L1464.7 519.3 L1466.4 517.8 L1468.1 516.3 L1469.7 514.8 L1471.4 513.2 L1473.1 511.7 L1474.8 510.3 L1476.4 508.8 L1478.1 507.3 L1479.8 505.9 L1481.4 504.5 L1483.1 503.1 L1484.8 501.7 L1486.5 500.4 L1488.1 499.1 L1489.8 497.8 L1491.5 496.5 L1493.2 495.3 L1494.8 494.1 L1496.5 492.9 L1498.2 491.8 L1499.9 490.7 L1501.5 489.6 L1503.2 488.6 L1504.9 487.6 L1506.5 486.7 L1508.2 485.8 L1509.9 484.9 L1511.6 484.1 L1513.2 483.4 L1514.9 482.6 L1516.6 482 L1518.3 481.3 L1519.9 480.7 L1521.6 480.2 L1523.3 479.7 L1525 479.3 L1526.6 478.9 L1528.3 478.6 L1530 478.3 L1531.6 478 L1533.3 477.8 L1535 477.7 L1536.7 477.6 L1538.3 477.6 L1540 477.6 L1541.7 477.7 L1543.4 477.8 L1545 478 L1546.7 478.2 L1548.4 478.5 L1550.1 478.8 L1551.7 479.2 L1553.4 479.6 L1555.1 480.1 L1556.7 480.6 L1558.4 481.2 L1560.1 481.8 L1561.8 482.5 L1563.4 483.2 L1565.1 484 L1566.8 484.8 L1568.5 485.6 L1570.1 486.5 L1571.8 487.4 L1573.5 488.4 L1575.2 489.4 L1576.8 490.5 L1578.5 491.6 L1580.2 492.7 L1581.8 493.8 L1583.5 495 L1585.2 496.3 L1586.9 497.5 L1588.5 498.8 L1590.2 500.1 L1591.9 501.4 L1593.6 502.8 L1595.2 504.2 L1596.9 505.6 L1598.6 507 L1600.3 508.5 L1601.9 509.9 L1603.6 511.4 L1605.3 512.9 L1606.9 514.4 L1608.6 516 L1610.3 517.5 L1612 519 L1613.6 520.6 L1615.3 522.1 L1617 523.6 L1618.7 525.2 L1620.3 526.7 L1622 528.3 L1623.7 529.8 L1625.4 531.3 L1627 532.9 L1628.7 534.4 L1630.4 535.9 L1632 537.4 L1633.7 538.8 L1635.4 540.3 L1637.1 541.7 L1638.7 543.2 L1640.4 544.6 L1642.1 545.9 L1643.8 547.3 L1645.4 548.6 L1647.1 549.9 L1648.8 551.2 L1650.5 552.4 L1652.1 553.6 L1653.8 554.8 L1655.5 555.9 L1657.1 557 L1658.8 558.1 L1660.5 559.1 L1662.2 560.1 L1663.8 561.1 L1665.5 562 L1667.2 562.9 L1668.9 563.7 L1670.5 564.5 L1672.2 565.2 L1673.9 565.9 L1675.6 566.5 L1677.2 567.1 L1678.9 567.7 L1680.6 568.2 L1682.2 568.6 L1683.9 569 L1685.6 569.4 L1687.3 569.7 L1688.9 569.9 L1690.6 570.1 L1692.3 570.3 L1694 570.4 L1695.6 570.4 L1697.3 570.4 L1699 570.3 L1700.7 570.2 L1702.3 570.1 L1704 569.8" stroke="#f00" stroke-width="7.2" stroke-dasharray="38.1 8.82 6.47 8.78" stroke-dashoffset="0.3"/>
</g>
<g fill="#000" shape-rendering="crispEdges">
<rect x="196" y="457" width="4" height="263"/>
<rect x="1702" y="457" width="4" height="263"/>
<rect x="196" y="457" width="1510" height="4"/>
<rect x="196" y="716" width="1510" height="4"/>
<rect x="196" y="718" width="4" height="14"/>
<rect x="447" y="718" width="4" height="14"/>
<rect x="698" y="718" width="4" height="14"/>
<rect x="949" y="718" width="4" height="14"/>
<rect x="1200" y="718" width="4" height="14"/>
<rect x="1451" y="718" width="4" height="14"/>
<rect x="1702" y="718" width="4" height="14"/>
<rect x="184" y="522" width="14" height="4"/>
<rect x="184" y="638" width="14" height="4"/>
</g>
<g text-anchor="middle">
<text x="198.9" y="789.8">0</text>
<text x="449.9" y="789.8">5</text>
<text x="700.9" y="789.8">10</text>
<text x="951.9" y="789.8">15</text>
<text x="1202.9" y="789.8">20</text>
<text x="1453.9" y="789.8">25</text>
<text x="1704.9" y="789.8">30</text>
</g>
<g text-anchor="end">
<text x="170.7" y="546.2">0.0</text>
<text x="170.7" y="662.2">−2.5</text>
</g>
<text x="951.7" y="862" text-anchor="middle">(b) HOSMD</text>
<path d="M1366.7 488.4 L1666.3 488.4 Q1674.6 488.4 1674.6 496.7 L1674.6 675.2 Q1674.6 683.5 1666.3 683.5 L1366.7 683.5 Q1358.4 683.5 1358.4 675.2 L1358.4 496.7 Q1358.4 488.4 1366.7 488.4 Z" fill="#fff" stroke="#ccc" stroke-width="4.7"/>
<rect x="1379" y="538" width="124" height="7" fill="#000" shape-rendering="crispEdges"/>
<g fill="#f00" shape-rendering="crispEdges">
<rect x="1382" y="624" width="38" height="7"/>
<rect x="1428" y="624" width="7" height="7"/>
<rect x="1444" y="624" width="38" height="7"/>
<rect x="1491" y="624" width="6" height="7"/>
</g>
<text class="it" x="1546.0" y="559.3">a</text>
<text x="1552.5" y="551.9">¨</text>
<rect x="1567" y="519" width="1" height="1" fill="#000"/>
<text x="1582.0" y="559.3">(</text>
<text class="it" x="1605.0" y="559.3">t</text>
<text x="1628.0" y="559.3">)</text>
<text class="it" x="1545.9" y="644.4">z</text>
<text class="sub" x="1577.2" y="653">2</text>
</g>
<defs><clipPath id="c2"><rect x="198" y="887" width="1506" height="259"/></clipPath></defs>
<g>
<g fill="#b0b0b0" shape-rendering="crispEdges">
<rect x="447" y="887" width="4" height="259"/>
<rect x="698" y="887" width="4" height="259"/>
<rect x="949" y="887" width="4" height="259"/>
<rect x="1200" y="887" width="4" height="259"/>
<rect x="1451" y="887" width="4" height="259"/>
<rect x="198" y="928" width="1506" height="4"/>
<rect x="198" y="1079" width="1506" height="4"/>
</g>
<g clip-path="url(#c2)" fill="none" stroke-linejoin="round">
<path d="M198 930 L199 1133.6 L202.5 898.4 L203.2 925 L203.8 933.2 L206.2 933.4 L208.5 931 L210.5 928.9 L211.5 928.4 L213.6 928.1 L215.8 927.9 L217.9 927.7 L220 927.4 L222.2 927.2 L224.3 927 L226.4 926.8 L228.6 926.5 L230.7 926.3 L232.8 926.1 L235 925.9 L237.1 925.8 L239.2 925.6 L241.4 925.4 L243.5 925.2 L245.6 925.1 L247.7 924.9 L249.9 924.8 L252 924.7 L254.1 924.6 L256.3 924.5 L258.4 924.4 L260.5 924.3 L262.7 924.2 L264.8 924.1 L266.9 924.1 L269.1 924 L271.2 924 L273.3 924 L275.5 924 L277.6 924 L279.7 924 L281.9 924 L284 924 L286.1 924.1 L288.3 924.1 L290.4 924.2 L292.5 924.3 L294.7 924.3 L296.8 924.4 L298.9 924.5 L301.1 924.6 L303.2 924.8 L305.3 924.9 L307.4 925 L309.6 925.2 L311.7 925.4 L313.8 925.5 L316 925.7 L318.1 925.9 L320.2 926.1 L322.4 926.3 L324.5 926.5 L326.6 926.7 L328.8 926.9 L330.9 927.1 L333 927.4 L335.2 927.6 L337.3 927.8 L339.4 928.1 L341.6 928.3 L343.7 928.6 L345.8 928.8 L348 929.1 L350.1 929.3 L352.2 929.6 L354.4 929.8 L356.5 930.1 L358.6 930.3 L360.8 930.6 L362.9 930.9 L365 931.1 L367.1 931.4 L369.3 931.6 L371.4 931.9 L373.5 932.1 L375.7 932.3 L377.8 932.6 L379.9 932.8 L382.1 933 L384.2 933.2 L386.3 933.5 L388.5 933.7 L390.6 933.9 L392.7 934.1 L394.9 934.2 L397 934.4 L399.1 934.6 L401.3 934.8 L403.4 934.9 L405.5 935.1 L407.7 935.2 L409.8 935.3 L411.9 935.4 L414.1 935.5 L416.2 935.6 L418.3 935.7 L420.4 935.8 L422.6 935.9 L424.7 935.9 L426.8 936 L429 936 L431.1 936 L433.2 936 L435.4 936 L437.5 936 L439.6 936 L441.8 936 L443.9 935.9 L446 935.9 L448.2 935.8 L450.3 935.7 L452.4 935.7 L454.6 935.6 L456.7 935.5 L458.8 935.3 L461 935.2 L463.1 935.1 L465.2 934.9 L467.4 934.8 L469.5 934.6 L471.6 934.5 L473.8 934.3 L475.9 934.1 L478 933.9 L480.1 933.7 L482.3 933.5 L484.4 933.3 L486.5 933.1 L488.7 932.9 L490.8 932.6 L492.9 932.4 L495.1 932.2 L497.2 931.9 L499.3 931.7 L501.5 931.4 L503.6 931.2 L505.7 930.9 L507.9 930.7 L510 930.4 L512.1 930.2 L514.3 929.9 L516.4 929.6 L518.5 929.4 L520.7 929.1 L522.8 928.9 L524.9 928.6 L527.1 928.4 L529.2 928.1 L531.3 927.9 L533.5 927.7 L535.6 927.4 L537.7 927.2 L539.9 927 L542 926.7 L544.1 926.5 L546.2 926.3 L548.4 926.1 L550.5 925.9 L552.6 925.7 L554.8 925.6 L556.9 925.4 L559 925.2 L561.2 925.1 L563.3 924.9 L565.4 924.8 L567.6 924.7 L569.7 924.6 L571.8 924.5 L574 924.4 L576.1 924.3 L578.2 924.2 L580.4 924.1 L582.5 924.1 L584.6 924 L586.8 924 L588.9 924 L591 924 L593.2 924 L595.3 924 L597.4 924 L599.6 924 L601.7 924.1 L603.8 924.1 L605.9 924.2 L608.1 924.3 L610.2 924.3 L612.3 924.4 L614.5 924.5 L616.6 924.7 L618.7 924.8 L620.9 924.9 L623 925.1 L625.1 925.2 L627.3 925.4 L629.4 925.5 L631.5 925.7 L633.7 925.9 L635.8 926.1 L637.9 926.3 L640.1 926.5 L642.2 926.7 L644.3 926.9 L646.5 927.2 L648.6 927.4 L650.7 927.6 L652.9 927.8 L655 928.1 L657.1 928.3 L659.2 928.6 L661.4 928.8 L663.5 929.1 L665.6 929.3 L667.8 929.6 L669.9 929.9 L672 930.1 L674.2 930.4 L676.3 930.6 L678.4 930.9 L680.6 931.1 L682.7 931.4 L684.8 931.6 L687 931.9 L689.1 932.1 L691.2 932.4 L693.4 932.6 L695.5 932.8 L697.6 933 L699.8 933.3 L701.9 933.5 L704 933.7 L706.2 933.9 L708.3 934.1 L710.4 934.3 L712.6 934.4 L714.7 934.6 L716.8 934.8 L719 934.9 L721.1 935.1 L723.2 935.2 L725.3 935.3 L727.5 935.4 L729.6 935.5 L731.7 935.6 L733.9 935.7 L736 935.8 L738.1 935.9 L740.3 935.9 L742.4 936 L744.5 936 L746.7 936 L748.8 936 L750.9 936 L753.1 936 L755.2 936 L757.3 936 L759.5 935.9 L761.6 935.9 L763.7 935.8 L765.9 935.7 L768 935.7 L770.1 935.6 L772.3 935.5 L774.4 935.3 L776.5 935.2 L778.6 935.1 L780.8 934.9 L782.9 934.8 L785 934.6 L787.2 934.5 L789.3 934.3 L791.4 934.1 L793.6 933.9 L795.7 933.7 L797.8 933.5 L800 933.3 L802.1 933.1 L804.2 932.8 L806.4 932.6 L808.5 932.4 L810.6 932.1 L812.8 931.9 L814.9 931.7 L817 931.4 L819.2 931.2 L821.3 930.9 L823.4 930.6 L825.6 930.4 L827.7 930.1 L829.8 929.9 L832 929.6 L834.1 929.4 L836.2 929.1 L838.4 928.9 L840.5 928.6 L842.6 928.4 L844.7 928.1 L846.9 927.9 L849 927.6 L851.1 927.4 L853.3 927.2 L855.4 926.9 L857.5 926.7 L859.7 926.5 L861.8 926.3 L863.9 926.1 L866.1 925.9 L868.2 925.7 L870.3 925.6 L872.5 925.4 L874.6 925.2 L876.7 925.1 L878.9 924.9 L881 924.8 L883.1 924.7 L885.3 924.6 L887.4 924.4 L889.5 924.4 L891.7 924.3 L893.8 924.2 L895.9 924.1 L898 924.1 L900.2 924 L902.3 924 L904.4 924 L906.6 924 L908.7 924 L910.8 924 L913 924 L915.1 924 L917.2 924.1 L919.4 924.1 L921.5 924.2 L923.6 924.3 L925.8 924.3 L927.9 924.4 L930 924.5 L932.2 924.7 L934.3 924.8 L936.4 924.9 L938.6 925.1 L940.7 925.2 L942.8 925.4 L945 925.5 L947.1 925.7 L949.2 925.9 L951.4 926.1 L953.5 926.3 L955.6 926.5 L957.8 926.7 L959.9 926.9 L962 927.2 L964.1 927.4 L966.3 927.6 L968.4 927.9 L970.5 928.1 L972.7 928.4 L974.8 928.6 L976.9 928.9 L979.1 929.1 L981.2 929.4 L983.3 929.6 L985.5 929.9 L987.6 930.1 L989.7 930.4 L991.9 930.6 L994 930.9 L996.1 931.1 L998.3 931.4 L1000.4 931.6 L1002.5 931.9 L1004.7 932.1 L1006.8 932.4 L1008.9 932.6 L1011.1 932.8 L1013.2 933.1 L1015.3 933.3 L1017.5 933.5 L1019.6 933.7 L1021.7 933.9 L1023.8 934.1 L1026 934.3 L1028.1 934.4 L1030.2 934.6 L1032.4 934.8 L1034.5 934.9 L1036.6 935.1 L1038.8 935.2 L1040.9 935.3 L1043 935.5 L1045.2 935.6 L1047.3 935.7 L1049.4 935.7 L1051.6 935.8 L1053.7 935.9 L1055.8 935.9 L1058 936 L1060.1 936 L1062.2 936 L1064.4 936 L1066.5 936 L1068.6 936 L1070.8 936 L1072.9 936 L1075 935.9 L1077.1 935.9 L1079.3 935.8 L1081.4 935.7 L1083.5 935.6 L1085.7 935.6 L1087.8 935.4 L1089.9 935.3 L1092.1 935.2 L1094.2 935.1 L1096.3 934.9 L1098.5 934.8 L1100.6 934.6 L1102.7 934.4 L1104.9 934.3 L1107 934.1 L1109.1 933.9 L1111.3 933.7 L1113.4 933.5 L1115.5 933.3 L1117.7 933.1 L1119.8 932.8 L1121.9 932.6 L1124.1 932.4 L1126.2 932.1 L1128.3 931.9 L1130.5 931.6 L1132.6 931.4 L1134.7 931.1 L1136.8 930.9 L1139 930.6 L1141.1 930.4 L1143.2 930.1 L1145.4 929.9 L1147.5 929.6 L1149.6 929.4 L1151.8 929.1 L1153.9 928.8 L1156 928.6 L1158.2 928.3 L1160.3 928.1 L1162.4 927.9 L1164.6 927.6 L1166.7 927.4 L1168.8 927.2 L1171 926.9 L1173.1 926.7 L1175.2 926.5 L1177.4 926.3 L1179.5 926.1 L1181.6 925.9 L1183.8 925.7 L1185.9 925.5 L1188 925.4 L1190.2 925.2 L1192.3 925.1 L1194.4 924.9 L1196.5 924.8 L1198.7 924.7 L1200.8 924.5 L1202.9 924.4 L1205.1 924.3 L1207.2 924.3 L1209.3 924.2 L1211.5 924.1 L1213.6 924.1 L1215.7 924 L1217.9 924 L1220 924 L1222.1 924 L1224.3 924 L1226.4 924 L1228.5 924 L1230.7 924 L1232.8 924.1 L1234.9 924.1 L1237.1 924.2 L1239.2 924.3 L1241.3 924.4 L1243.5 924.4 L1245.6 924.6 L1247.7 924.7 L1249.9 924.8 L1252 924.9 L1254.1 925.1 L1256.2 925.2 L1258.4 925.4 L1260.5 925.6 L1262.6 925.7 L1264.8 925.9 L1266.9 926.1 L1269 926.3 L1271.2 926.5 L1273.3 926.7 L1275.4 927 L1277.6 927.2 L1279.7 927.4 L1281.8 927.6 L1284 927.9 L1286.1 928.1 L1288.2 928.4 L1290.4 928.6 L1292.5 928.9 L1294.6 929.1 L1296.8 929.4 L1298.9 929.6 L1301 929.9 L1303.2 930.1 L1305.3 930.4 L1307.4 930.7 L1309.6 930.9 L1311.7 931.2 L1313.8 931.4 L1316 931.7 L1318.1 931.9 L1320.2 932.1 L1322.3 932.4 L1324.5 932.6 L1326.6 932.8 L1328.7 933.1 L1330.9 933.3 L1333 933.5 L1335.1 933.7 L1337.3 933.9 L1339.4 934.1 L1341.5 934.3 L1343.7 934.5 L1345.8 934.6 L1347.9 934.8 L1350.1 934.9 L1352.2 935.1 L1354.3 935.2 L1356.5 935.3 L1358.6 935.5 L1360.7 935.6 L1362.9 935.7 L1365 935.7 L1367.1 935.8 L1369.3 935.9 L1371.4 935.9 L1373.5 936 L1375.7 936 L1377.8 936 L1379.9 936 L1382 936 L1384.2 936 L1386.3 936 L1388.4 936 L1390.6 935.9 L1392.7 935.9 L1394.8 935.8 L1397 935.7 L1399.1 935.6 L1401.2 935.5 L1403.4 935.4 L1405.5 935.3 L1407.6 935.2 L1409.8 935.1 L1411.9 934.9 L1414 934.8 L1416.2 934.6 L1418.3 934.4 L1420.4 934.3 L1422.6 934.1 L1424.7 933.9 L1426.8 933.7 L1429 933.5 L1431.1 933.3 L1433.2 933 L1435.3 932.8 L1437.5 932.6 L1439.6 932.3 L1441.7 932.1 L1443.9 931.9 L1446 931.6 L1448.1 931.4 L1450.3 931.1 L1452.4 930.9 L1454.5 930.6 L1456.7 930.4 L1458.8 930.1 L1460.9 929.8 L1463.1 929.6 L1465.2 929.3 L1467.3 929.1 L1469.5 928.8 L1471.6 928.6 L1473.7 928.3 L1475.9 928.1 L1478 927.8 L1480.1 927.6 L1482.3 927.4 L1484.4 927.1 L1486.5 926.9 L1488.7 926.7 L1490.8 926.5 L1492.9 926.3 L1495 926.1 L1497.2 925.9 L1499.3 925.7 L1501.4 925.5 L1503.6 925.4 L1505.7 925.2 L1507.8 925.1 L1510 924.9 L1512.1 924.8 L1514.2 924.7 L1516.4 924.5 L1518.5 924.4 L1520.6 924.3 L1522.8 924.3 L1524.9 924.2 L1527 924.1 L1529.2 924.1 L1531.3 924 L1533.4 924 L1535.6 924 L1537.7 924 L1539.8 924 L1542 924 L1544.1 924 L1546.2 924 L1548.4 924.1 L1550.5 924.1 L1552.6 924.2 L1554.8 924.3 L1556.9 924.4 L1559 924.5 L1561.1 924.6 L1563.3 924.7 L1565.4 924.8 L1567.5 924.9 L1569.7 925.1 L1571.8 925.2 L1573.9 925.4 L1576.1 925.6 L1578.2 925.8 L1580.3 925.9 L1582.5 926.1 L1584.6 926.3 L1586.7 926.5 L1588.9 926.8 L1591 927 L1593.1 927.2 L1595.3 927.4 L1597.4 927.7 L1599.5 927.9 L1601.7 928.1 L1603.8 928.4 L1605.9 928.6 L1608.1 928.9 L1610.2 929.1 L1612.3 929.4 L1614.5 929.6 L1616.6 929.9 L1618.7 930.2 L1620.8 930.4 L1623 930.7 L1625.1 930.9 L1627.2 931.2 L1629.4 931.4 L1631.5 931.7 L1633.6 931.9 L1635.8 932.2 L1637.9 932.4 L1640 932.6 L1642.2 932.9 L1644.3 933.1 L1646.4 933.3 L1648.6 933.5 L1650.7 933.7 L1652.8 933.9 L1655 934.1 L1657.1 934.3 L1659.2 934.5 L1661.4 934.6 L1663.5 934.8 L1665.6 935 L1667.8 935.1 L1669.9 935.2 L1672 935.4 L1674.1 935.5 L1676.3 935.6 L1678.4 935.7 L1680.5 935.7 L1682.7 935.8 L1684.8 935.9 L1686.9 935.9 L1689.1 936 L1691.2 936 L1693.3 936 L1695.5 936 L1697.6 936 L1699.7 936 L1701.9 936 L1704 936" stroke="#000" stroke-width="7.2"/>
<path d="M198 930 L199.7 929.8 L201.3 929.6 L203 929.4 L204.7 929.2 L206.4 929 L208 928.8 L209.7 928.6 L211.4 928.4 L213.1 928.2 L214.7 928 L216.4 927.8 L218.1 927.6 L219.8 927.5 L221.4 927.3 L223.1 927.1 L224.8 926.9 L226.4 926.8 L228.1 926.6 L229.8 926.4 L231.5 926.3 L233.1 926.1 L234.8 926 L236.5 925.8 L238.2 925.7 L239.8 925.5 L241.5 925.4 L243.2 925.3 L244.9 925.1 L246.5 925 L248.2 924.9 L249.9 924.8 L251.5 924.7 L253.2 924.6 L254.9 924.5 L256.6 924.4 L258.2 924.4 L259.9 924.3 L261.6 924.2 L263.3 924.2 L264.9 924.1 L266.6 924.1 L268.3 924 L270 924 L271.6 924 L273.3 924 L275 924 L276.6 924 L278.3 924 L280 924 L281.7 924 L283.3 924 L285 924 L286.7 924.1 L288.4 924.1 L290 924.2 L291.7 924.2 L293.4 924.3 L295.1 924.4 L296.7 924.4 L298.4 924.5 L300.1 924.6 L301.7 924.7 L303.4 924.8 L305.1 924.9 L306.8 925 L308.4 925.1 L310.1 925.2 L311.8 925.4 L313.5 925.5 L315.1 925.6 L316.8 925.8 L318.5 925.9 L320.2 926.1 L321.8 926.2 L323.5 926.4 L325.2 926.5 L326.8 926.7 L328.5 926.9 L330.2 927.1 L331.9 927.2 L333.5 927.4 L335.2 927.6 L336.9 927.8 L338.6 928 L340.2 928.2 L341.9 928.4 L343.6 928.6 L345.3 928.8 L346.9 928.9 L348.6 929.1 L350.3 929.3 L351.9 929.5 L353.6 929.7 L355.3 930 L357 930.2 L358.6 930.4 L360.3 930.6 L362 930.8 L363.7 931 L365.3 931.2 L367 931.3 L368.7 931.5 L370.4 931.7 L372 931.9 L373.7 932.1 L375.4 932.3 L377 932.5 L378.7 932.7 L380.4 932.9 L382.1 933 L383.7 933.2 L385.4 933.4 L387.1 933.5 L388.8 933.7 L390.4 933.9 L392.1 934 L393.8 934.2 L395.5 934.3 L397.1 934.4 L398.8 934.6 L400.5 934.7 L402.1 934.8 L403.8 934.9 L405.5 935.1 L407.2 935.2 L408.8 935.3 L410.5 935.4 L412.2 935.4 L413.9 935.5 L415.5 935.6 L417.2 935.7 L418.9 935.7 L420.6 935.8 L422.2 935.9 L423.9 935.9 L425.6 935.9 L427.2 936 L428.9 936 L430.6 936 L432.3 936 L433.9 936 L435.6 936 L437.3 936 L439 936 L440.6 936 L442.3 936 L444 935.9 L445.7 935.9 L447.3 935.8 L449 935.8 L450.7 935.7 L452.3 935.7 L454 935.6 L455.7 935.5 L457.4 935.4 L459 935.3 L460.7 935.2 L462.4 935.1 L464.1 935 L465.7 934.9 L467.4 934.8 L469.1 934.7 L470.8 934.5 L472.4 934.4 L474.1 934.3 L475.8 934.1 L477.4 934 L479.1 933.8 L480.8 933.7 L482.5 933.5 L484.1 933.3 L485.8 933.2 L487.5 933 L489.2 932.8 L490.8 932.6 L492.5 932.4 L494.2 932.3 L495.9 932.1 L497.5 931.9 L499.2 931.7 L500.9 931.5 L502.5 931.3 L504.2 931.1 L505.9 930.9 L507.6 930.7 L509.2 930.5 L510.9 930.3 L512.6 930.1 L514.3 929.9 L515.9 929.7 L517.6 929.5 L519.3 929.3 L521 929.1 L522.6 928.9 L524.3 928.7 L526 928.5 L527.6 928.3 L529.3 928.1 L531 927.9 L532.7 927.7 L534.3 927.6 L536 927.4 L537.7 927.2 L539.4 927 L541 926.8 L542.7 926.7 L544.4 926.5 L546.1 926.3 L547.7 926.2 L549.4 926 L551.1 925.9 L552.7 925.7 L554.4 925.6 L556.1 925.5 L557.8 925.3 L559.4 925.2 L561.1 925.1 L562.8 925 L564.5 924.9 L566.1 924.8 L567.8 924.7 L569.5 924.6 L571.2 924.5 L572.8 924.4 L574.5 924.3 L576.2 924.3 L577.8 924.2 L579.5 924.2 L581.2 924.1 L582.9 924.1 L584.5 924 L586.2 924 L587.9 924 L589.6 924 L591.2 924 L592.9 924 L594.6 924 L596.3 924 L597.9 924 L599.6 924 L601.3 924.1 L602.9 924.1 L604.6 924.1 L606.3 924.2 L608 924.3 L609.6 924.3 L611.3 924.4 L613 924.5 L614.7 924.6 L616.3 924.6 L618 924.7 L619.7 924.8 L621.4 924.9 L623 925.1 L624.7 925.2 L626.4 925.3 L628 925.4 L629.7 925.6 L631.4 925.7 L633.1 925.8 L634.7 926 L636.4 926.1 L638.1 926.3 L639.8 926.5 L641.4 926.6 L643.1 926.8 L644.8 927 L646.5 927.1 L648.1 927.3 L649.8 927.5 L651.5 927.7 L653.1 927.9 L654.8 928.1 L656.5 928.3 L658.2 928.5 L659.8 928.7 L661.5 928.9 L663.2 929 L664.9 929.2 L666.5 929.4 L668.2 929.6 L669.9 929.9 L671.6 930.1 L673.2 930.3 L674.9 930.5 L676.6 930.7 L678.2 930.9 L679.9 931.1 L681.6 931.3 L683.3 931.4 L684.9 931.6 L686.6 931.8 L688.3 932 L690 932.2 L691.6 932.4 L693.3 932.6 L695 932.8 L696.7 932.9 L698.3 933.1 L700 933.3 L701.7 933.5 L703.3 933.6 L705 933.8 L706.7 933.9 L708.4 934.1 L710 934.2 L711.7 934.4 L713.4 934.5 L715.1 934.6 L716.7 934.8 L718.4 934.9 L720.1 935 L721.8 935.1 L723.4 935.2 L725.1 935.3 L726.8 935.4 L728.4 935.5 L730.1 935.6 L731.8 935.6 L733.5 935.7 L735.1 935.8 L736.8 935.8 L738.5 935.9 L740.2 935.9 L741.8 936 L743.5 936 L745.2 936 L746.9 936 L748.5 936 L750.2 936 L751.9 936 L753.5 936 L755.2 936 L756.9 936 L758.6 936 L760.2 935.9 L761.9 935.9 L763.6 935.8 L765.3 935.8 L766.9 935.7 L768.6 935.6 L770.3 935.6 L772 935.5 L773.6 935.4 L775.3 935.3 L777 935.2 L778.6 935.1 L780.3 935 L782 934.9 L783.7 934.7 L785.3 934.6 L787 934.5 L788.7 934.3 L790.4 934.2 L792 934 L793.7 933.9 L795.4 933.7 L797.1 933.6 L798.7 933.4 L800.4 933.2 L802.1 933.1 L803.7 932.9 L805.4 932.7 L807.1 932.5 L808.8 932.4 L810.4 932.2 L812.1 932 L813.8 931.8 L815.5 931.6 L817.1 931.4 L818.8 931.2 L820.5 931 L822.2 930.8 L823.8 930.6 L825.5 930.4 L827.2 930.2 L828.8 930 L830.5 929.8 L832.2 929.6 L833.9 929.4 L835.5 929.2 L837.2 929 L838.9 928.8 L840.6 928.6 L842.2 928.4 L843.9 928.2 L845.6 928 L847.3 927.8 L848.9 927.6 L850.6 927.5 L852.3 927.3 L853.9 927.1 L855.6 926.9 L857.3 926.8 L859 926.6 L860.6 926.4 L862.3 926.3 L864 926.1 L865.7 926 L867.3 925.8 L869 925.7 L870.7 925.5 L872.4 925.4 L874 925.3 L875.7 925.1 L877.4 925 L879 924.9 L880.7 924.8 L882.4 924.7 L884.1 924.6 L885.7 924.5 L887.4 924.4 L889.1 924.4 L890.8 924.3 L892.4 924.2 L894.1 924.2 L895.8 924.1 L897.5 924.1 L899.1 924 L900.8 924 L902.5 924 L904.1 924 L905.8 924 L907.5 924 L909.2 924 L910.8 924 L912.5 924 L914.2 924 L915.9 924 L917.5 924.1 L919.2 924.1 L920.9 924.2 L922.6 924.2 L924.2 924.3 L925.9 924.4 L927.6 924.4 L929.2 924.5 L930.9 924.6 L932.6 924.7 L934.3 924.8 L935.9 924.9 L937.6 925 L939.3 925.1 L941 925.2 L942.6 925.4 L944.3 925.5 L946 925.6 L947.7 925.8 L949.3 925.9 L951 926.1 L952.7 926.2 L954.3 926.4 L956 926.5 L957.7 926.7 L959.4 926.9 L961 927.1 L962.7 927.2 L964.4 927.4 L966.1 927.6 L967.7 927.8 L969.4 928 L971.1 928.2 L972.8 928.4 L974.4 928.6 L976.1 928.8 L977.8 929 L979.4 929.1 L981.1 929.3 L982.8 929.5 L984.5 929.8 L986.1 930 L987.8 930.2 L989.5 930.4 L991.2 930.6 L992.8 930.8 L994.5 931 L996.2 931.2 L997.9 931.3 L999.5 931.5 L1001.2 931.7 L1002.9 931.9 L1004.5 932.1 L1006.2 932.3 L1007.9 932.5 L1009.6 932.7 L1011.2 932.9 L1012.9 933 L1014.6 933.2 L1016.3 933.4 L1017.9 933.5 L1019.6 933.7 L1021.3 933.9 L1023 934 L1024.6 934.2 L1026.3 934.3 L1028 934.4 L1029.6 934.6 L1031.3 934.7 L1033 934.8 L1034.7 934.9 L1036.3 935.1 L1038 935.2 L1039.7 935.3 L1041.4 935.4 L1043 935.5 L1044.7 935.5 L1046.4 935.6 L1048.1 935.7 L1049.7 935.7 L1051.4 935.8 L1053.1 935.9 L1054.7 935.9 L1056.4 935.9 L1058.1 936 L1059.8 936 L1061.4 936 L1063.1 936 L1064.8 936 L1066.5 936 L1068.1 936 L1069.8 936 L1071.5 936 L1073.2 936 L1074.8 935.9 L1076.5 935.9 L1078.2 935.8 L1079.8 935.8 L1081.5 935.7 L1083.2 935.7 L1084.9 935.6 L1086.5 935.5 L1088.2 935.4 L1089.9 935.3 L1091.6 935.2 L1093.2 935.1 L1094.9 935 L1096.6 934.9 L1098.3 934.8 L1099.9 934.7 L1101.6 934.5 L1103.3 934.4 L1104.9 934.3 L1106.6 934.1 L1108.3 934 L1110 933.8 L1111.6 933.7 L1113.3 933.5 L1115 933.3 L1116.7 933.2 L1118.3 933 L1120 932.8 L1121.7 932.6 L1123.4 932.4 L1125 932.3 L1126.7 932.1 L1128.4 931.9 L1130 931.7 L1131.7 931.5 L1133.4 931.3 L1135.1 931.1 L1136.7 930.9 L1138.4 930.7 L1140.1 930.5 L1141.8 930.3 L1143.4 930.1 L1145.1 929.9 L1146.8 929.7 L1148.5 929.5 L1150.1 929.3 L1151.8 929.1 L1153.5 928.9 L1155.1 928.7 L1156.8 928.5 L1158.5 928.3 L1160.2 928.1 L1161.8 927.9 L1163.5 927.7 L1165.2 927.6 L1166.9 927.4 L1168.5 927.2 L1170.2 927 L1171.9 926.8 L1173.6 926.7 L1175.2 926.5 L1176.9 926.3 L1178.6 926.2 L1180.2 926 L1181.9 925.9 L1183.6 925.7 L1185.3 925.6 L1186.9 925.5 L1188.6 925.3 L1190.3 925.2 L1192 925.1 L1193.6 925 L1195.3 924.9 L1197 924.8 L1198.7 924.7 L1200.3 924.6 L1202 924.5 L1203.7 924.4 L1205.3 924.3 L1207 924.3 L1208.7 924.2 L1210.4 924.2 L1212 924.1 L1213.7 924.1 L1215.4 924 L1217.1 924 L1218.7 924 L1220.4 924 L1222.1 924 L1223.8 924 L1225.4 924 L1227.1 924 L1228.8 924 L1230.4 924 L1232.1 924.1 L1233.8 924.1 L1235.5 924.1 L1237.1 924.2 L1238.8 924.3 L1240.5 924.3 L1242.2 924.4 L1243.8 924.5 L1245.5 924.6 L1247.2 924.6 L1248.9 924.7 L1250.5 924.8 L1252.2 924.9 L1253.9 925.1 L1255.5 925.2 L1257.2 925.3 L1258.9 925.4 L1260.6 925.6 L1262.2 925.7 L1263.9 925.8 L1265.6 926 L1267.3 926.1 L1268.9 926.3 L1270.6 926.5 L1272.3 926.6 L1274 926.8 L1275.6 927 L1277.3 927.2 L1279 927.3 L1280.6 927.5 L1282.3 927.7 L1284 927.9 L1285.7 928.1 L1287.3 928.3 L1289 928.5 L1290.7 928.7 L1292.4 928.9 L1294 929.1 L1295.7 929.3 L1297.4 929.5 L1299.1 929.7 L1300.7 929.9 L1302.4 930.1 L1304.1 930.3 L1305.7 930.5 L1307.4 930.7 L1309.1 930.9 L1310.8 931.1 L1312.4 931.3 L1314.1 931.4 L1315.8 931.6 L1317.5 931.8 L1319.1 932 L1320.8 932.2 L1322.5 932.4 L1324.2 932.6 L1325.8 932.8 L1327.5 932.9 L1329.2 933.1 L1330.8 933.3 L1332.5 933.5 L1334.2 933.6 L1335.9 933.8 L1337.5 933.9 L1339.2 934.1 L1340.9 934.2 L1342.6 934.4 L1344.2 934.5 L1345.9 934.6 L1347.6 934.8 L1349.3 934.9 L1350.9 935 L1352.6 935.1 L1354.3 935.2 L1355.9 935.3 L1357.6 935.4 L1359.3 935.5 L1361 935.6 L1362.6 935.6 L1364.3 935.7 L1366 935.8 L1367.7 935.8 L1369.3 935.9 L1371 935.9 L1372.7 936 L1374.4 936 L1376 936 L1377.7 936 L1379.4 936 L1381 936 L1382.7 936 L1384.4 936 L1386.1 936 L1387.7 936 L1389.4 936 L1391.1 935.9 L1392.8 935.9 L1394.4 935.8 L1396.1 935.8 L1397.8 935.7 L1399.5 935.6 L1401.1 935.6 L1402.8 935.5 L1404.5 935.4 L1406.1 935.3 L1407.8 935.2 L1409.5 935.1 L1411.2 935 L1412.8 934.9 L1414.5 934.7 L1416.2 934.6 L1417.9 934.5 L1419.5 934.3 L1421.2 934.2 L1422.9 934 L1424.6 933.9 L1426.2 933.7 L1427.9 933.6 L1429.6 933.4 L1431.2 933.2 L1432.9 933.1 L1434.6 932.9 L1436.3 932.7 L1437.9 932.5 L1439.6 932.3 L1441.3 932.2 L1443 932 L1444.6 931.8 L1446.3 931.6 L1448 931.4 L1449.7 931.2 L1451.3 931 L1453 930.8 L1454.7 930.6 L1456.3 930.4 L1458 930.2 L1459.7 930 L1461.4 929.8 L1463 929.6 L1464.7 929.4 L1466.4 929.2 L1468.1 929 L1469.7 928.8 L1471.4 928.6 L1473.1 928.4 L1474.8 928.2 L1476.4 928 L1478.1 927.8 L1479.8 927.6 L1481.4 927.5 L1483.1 927.3 L1484.8 927.1 L1486.5 926.9 L1488.1 926.8 L1489.8 926.6 L1491.5 926.4 L1493.2 926.3 L1494.8 926.1 L1496.5 926 L1498.2 925.8 L1499.9 925.7 L1501.5 925.5 L1503.2 925.4 L1504.9 925.3 L1506.5 925.1 L1508.2 925 L1509.9 924.9 L1511.6 924.8 L1513.2 924.7 L1514.9 924.6 L1516.6 924.5 L1518.3 924.4 L1519.9 924.4 L1521.6 924.3 L1523.3 924.2 L1525 924.2 L1526.6 924.1 L1528.3 924.1 L1530 924 L1531.6 924 L1533.3 924 L1535 924 L1536.7 924 L1538.3 924 L1540 924 L1541.7 924 L1543.4 924 L1545 924 L1546.7 924 L1548.4 924.1 L1550.1 924.1 L1551.7 924.2 L1553.4 924.2 L1555.1 924.3 L1556.7 924.4 L1558.4 924.4 L1560.1 924.5 L1561.8 924.6 L1563.4 924.7 L1565.1 924.8 L1566.8 924.9 L1568.5 925 L1570.1 925.1 L1571.8 925.2 L1573.5 925.4 L1575.2 925.5 L1576.8 925.6 L1578.5 925.8 L1580.2 925.9 L1581.8 926.1 L1583.5 926.2 L1585.2 926.4 L1586.9 926.6 L1588.5 926.7 L1590.2 926.9 L1591.9 927.1 L1593.6 927.2 L1595.2 927.4 L1596.9 927.6 L1598.6 927.8 L1600.3 928 L1601.9 928.2 L1603.6 928.4 L1605.3 928.6 L1606.9 928.8 L1608.6 929 L1610.3 929.2 L1612 929.4 L1613.6 929.6 L1615.3 929.8 L1617 930 L1618.7 930.2 L1620.3 930.4 L1622 930.6 L1623.7 930.8 L1625.4 931 L1627 931.2 L1628.7 931.4 L1630.4 931.5 L1632 931.7 L1633.7 931.9 L1635.4 932.1 L1637.1 932.3 L1638.7 932.5 L1640.4 932.7 L1642.1 932.9 L1643.8 933 L1645.4 933.2 L1647.1 933.4 L1648.8 933.5 L1650.5 933.7 L1652.1 933.9 L1653.8 934 L1655.5 934.2 L1657.1 934.3 L1658.8 934.4 L1660.5 934.6 L1662.2 934.7 L1663.8 934.8 L1665.5 934.9 L1667.2 935.1 L1668.9 935.2 L1670.5 935.3 L1672.2 935.4 L1673.9 935.5 L1675.6 935.5 L1677.2 935.6 L1678.9 935.7 L1680.6 935.7 L1682.2 935.8 L1683.9 935.9 L1685.6 935.9 L1687.3 935.9 L1688.9 936 L1690.6 936 L1692.3 936 L1694 936 L1695.6 936 L1697.3 936 L1699 936 L1700.7 936 L1702.3 936 L1704 936" stroke="#f00" stroke-width="7.2" stroke-dasharray="38.1 8.82 6.47 8.78" stroke-dashoffset="0.3"/>
</g>
<g fill="#000" shape-rendering="crispEdges">
<rect x="196" y="885" width="4" height="263"/>
<rect x="1702" y="885" width="4" height="263"/>
<rect x="196" y="885" width="1510" height="4"/>
<rect x="196" y="1144" width="1510" height="4"/>
<rect x="196" y="1146" width="4" height="14"/>
<rect x="447" y="1146" width="4" height="14"/>
<rect x="698" y="1146" width="4" height="14"/>
<rect x="949" y="1146" width="4" height="14"/>
<rect x="1200" y="1146" width="4" height="14"/>
<rect x="1451" y="1146" width="4" height="14"/>
<rect x="1702" y="1146" width="4" height="14"/>
<rect x="184" y="928" width="14" height="4"/>
<rect x="184" y="1079" width="14" height="4"/>
</g>
<g text-anchor="middle">
<text x="198.9" y="1217.8">0</text>
<text x="449.9" y="1217.8">5</text>
<text x="700.9" y="1217.8">10</text>
<text x="951.9" y="1217.8">15</text>
<text x="1202.9" y="1217.8">20</text>
<text x="1453.9" y="1217.8">25</text>
<text x="1704.9" y="1217.8">30</text>
</g>
<g text-anchor="end">
<text x="170.7" y="952.2">0</text>
<text x="170.7" y="1103.2">−25</text>
</g>
<text x="951.7" y="1290" text-anchor="middle">(c) HGO</text>
<path d="M1366.7 916.4 L1666.3 916.4 Q1674.6 916.4 1674.6 924.7 L1674.6 1109.2 Q1674.6 1117.5 1666.3 1117.5 L1366.7 1117.5 Q1358.4 1117.5 1358.4 1109.2 L1358.4 924.7 Q1358.4 916.4 1366.7 916.4 Z" fill="#fff" stroke="#ccc" stroke-width="4.7"/>
<rect x="1379" y="966" width="124" height="7" fill="#000" shape-rendering="crispEdges"/>
<g fill="#f00" shape-rendering="crispEdges">
<rect x="1382" y="1054" width="38" height="7"/>
<rect x="1428" y="1054" width="7" height="7"/>
<rect x="1444" y="1054" width="38" height="7"/>
<rect x="1491" y="1054" width="6" height="7"/>
</g>
<text class="it" x="1546.0" y="987.3">a</text>
<text x="1552.5" y="979.9">¨</text>
<rect x="1567" y="947" width="1" height="1" fill="#000"/>
<text x="1582.0" y="987.3">(</text>
<text class="it" x="1605.0" y="987.3">t</text>
<text x="1628.0" y="987.3">)</text>
<text class="it" x="1546.1" y="1075.9">ζ</text>
<text class="sub" x="1578.2" y="1083.7">2</text>
</g>
</svg></body></html>
